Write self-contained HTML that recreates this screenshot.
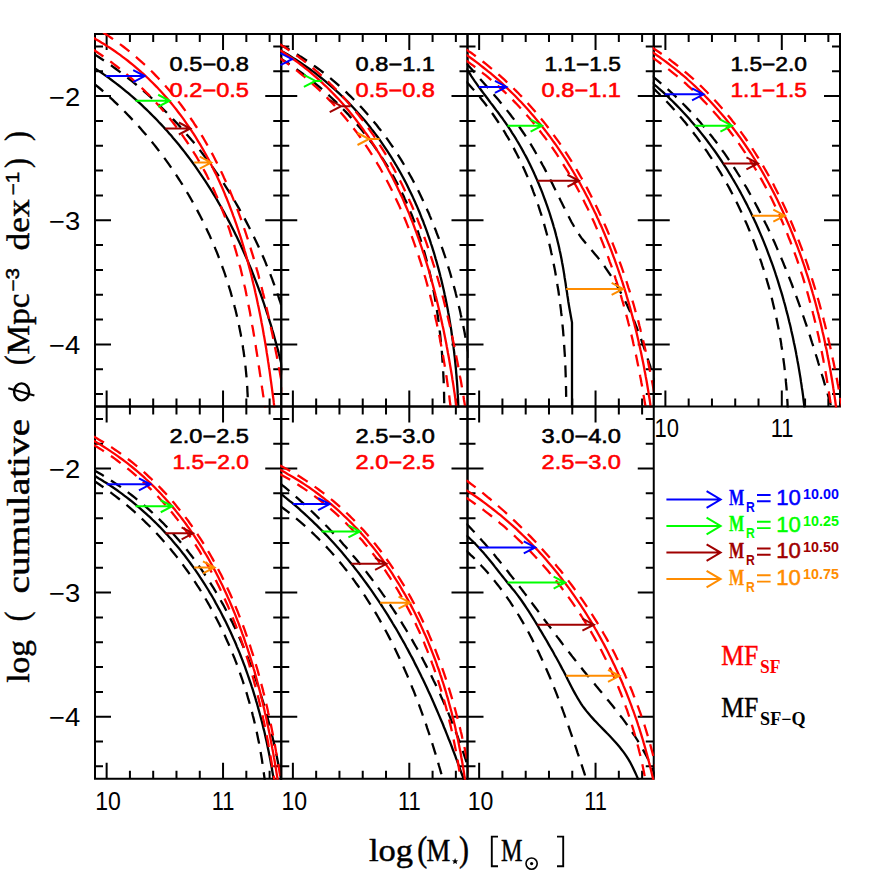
<!DOCTYPE html><html><head><meta charset="utf-8"><title>Mass functions</title><style>html,body{margin:0;padding:0;background:#fff;}body{width:872px;height:872px;overflow:hidden;font-family:"Liberation Sans",sans-serif;}svg{display:block;}</style></head><body>
<svg width="872" height="872" viewBox="0 0 872 872">
<rect width="872" height="872" fill="#fff"/>
<defs>
<clipPath id="c1"><rect x="94.00" y="33.00" width="188.25" height="374.50"/></clipPath>
<clipPath id="c2"><rect x="280.25" y="33.00" width="188.25" height="374.50"/></clipPath>
<clipPath id="c3"><rect x="466.50" y="33.00" width="188.25" height="374.50"/></clipPath>
<clipPath id="c4"><rect x="652.75" y="33.00" width="188.25" height="374.50"/></clipPath>
<clipPath id="c5"><rect x="94.00" y="405.50" width="188.25" height="374.25"/></clipPath>
<clipPath id="c6"><rect x="280.25" y="405.50" width="188.25" height="374.25"/></clipPath>
<clipPath id="c7"><rect x="466.50" y="405.50" width="188.25" height="374.25"/></clipPath>
</defs>
<g stroke="#000" stroke-width="2" fill="none">
<rect x="95.00" y="34.00" width="186.25" height="372.50"/>
<path d="M106.64 34.00v16.00M106.64 406.50v-16.00M129.92 34.00v8.00M129.92 406.50v-8.00M153.20 34.00v8.00M153.20 406.50v-8.00M176.48 34.00v8.00M176.48 406.50v-8.00M199.77 34.00v8.00M199.77 406.50v-8.00M223.05 34.00v16.00M223.05 406.50v-16.00M246.33 34.00v8.00M246.33 406.50v-8.00M269.61 34.00v8.00M269.61 406.50v-8.00M95.00 46.42h8.00M281.25 46.42h-8.00M95.00 71.25h8.00M281.25 71.25h-8.00M95.00 96.08h16.00M281.25 96.08h-16.00M95.00 120.92h8.00M281.25 120.92h-8.00M95.00 145.75h8.00M281.25 145.75h-8.00M95.00 170.58h8.00M281.25 170.58h-8.00M95.00 195.42h8.00M281.25 195.42h-8.00M95.00 220.25h16.00M281.25 220.25h-16.00M95.00 245.08h8.00M281.25 245.08h-8.00M95.00 269.92h8.00M281.25 269.92h-8.00M95.00 294.75h8.00M281.25 294.75h-8.00M95.00 319.58h8.00M281.25 319.58h-8.00M95.00 344.42h16.00M281.25 344.42h-16.00M95.00 369.25h8.00M281.25 369.25h-8.00M95.00 394.08h8.00M281.25 394.08h-8.00"/>
</g>
<g clip-path="url(#c1)" fill="none" stroke-width="2.3">
<path d="M94.0 83.6 L96.4 85.6 L98.7 87.5 L101.1 89.5 L103.4 91.5 L105.7 93.6 L107.9 95.6 L110.2 97.7 L112.5 99.7 L114.7 101.8 L116.9 103.9 L119.1 106.1 L121.3 108.2 L123.5 110.4 L125.6 112.5 L127.7 114.7 L129.8 116.9 L131.9 119.1 L134.0 121.3 L136.1 123.6 L138.1 125.8 L140.2 128.1 L142.2 130.4 L144.2 132.7 L146.2 135.0 L148.1 137.4 L150.1 139.7 L152.0 142.0 L153.9 144.4 L155.8 146.8 L157.7 149.2 L159.5 151.6 L161.4 154.0 L163.2 156.5 L165.0 158.9 L166.8 161.4 L168.6 163.9 L170.3 166.3 L172.0 168.8 L173.8 171.4 L175.5 173.9 L177.1 176.4 L178.8 179.0 L180.4 181.5 L182.1 184.1 L183.7 186.7 L185.3 189.3 L186.8 191.9 L188.4 194.5 L189.9 197.1 L191.4 199.7 L192.9 202.4 L194.4 205.0 L195.9 207.7 L197.3 210.4 L198.7 213.1 L200.1 215.8 L201.5 218.5 L202.9 221.2 L204.2 223.9 L205.5 226.7 L206.8 229.4 L208.1 232.2 L209.4 234.9 L210.6 237.7 L211.9 240.5 L213.1 243.3 L214.3 246.1 L215.4 248.9 L216.6 251.7 L217.7 254.5 L218.8 257.4 L219.9 260.2 L221.0 263.0 L222.0 265.9 L223.1 268.8 L224.1 271.6 L225.1 274.5 L226.0 277.4 L227.0 280.3 L227.9 283.2 L228.8 286.1 L229.7 289.0 L230.6 291.9 L231.4 294.9 L232.3 297.8 L233.1 300.7 L233.9 303.7 L234.6 306.6 L235.4 309.6 L236.1 312.5 L236.8 315.5 L237.5 318.5 L238.1 321.5 L238.8 324.4 L239.4 327.4 L240.0 330.4 L240.6 333.4 L241.1 336.4 L241.7 339.4 L242.2 342.4 L242.7 345.4 L243.1 348.5 L243.6 351.5 L244.0 354.5 L244.4 357.5 L244.8 360.6 L245.2 363.6 L245.5 366.6 L245.8 369.7 L246.1 372.7 L246.4 375.8 L246.7 378.8 L246.9 381.9 L247.1 384.9 L247.3 388.0 L247.4 391.1 L247.6 394.1 L247.7 397.2" stroke="#000000" stroke-dasharray="12 8.5"/>
<path d="M93.9 53.9 L96.5 55.6 L99.0 57.3 L101.6 59.0 L104.2 60.7 L106.7 62.4 L109.2 64.2 L111.8 65.9 L114.3 67.7 L116.7 69.5 L119.2 71.3 L121.7 73.2 L124.1 75.0 L126.5 76.9 L128.9 78.8 L131.3 80.7 L133.7 82.6 L136.0 84.5 L138.4 86.5 L140.7 88.5 L143.0 90.4 L145.3 92.4 L147.6 94.5 L149.8 96.5 L152.1 98.5 L154.3 100.6 L156.5 102.7 L158.7 104.8 L160.9 106.9 L163.1 109.0 L165.3 111.2 L167.4 113.3 L169.5 115.5 L171.6 117.7 L173.7 119.9 L175.8 122.1 L177.9 124.3 L179.9 126.6 L181.9 128.8 L183.9 131.1 L185.9 133.4 L187.9 135.7 L189.9 138.0 L191.8 140.3 L193.8 142.6 L195.7 145.0 L197.6 147.3 L199.5 149.7 L201.4 152.1 L203.2 154.5 L205.0 156.9 L206.9 159.3 L208.7 161.8 L210.5 164.2 L212.2 166.7 L214.0 169.1 L215.7 171.6 L217.5 174.1 L219.2 176.6 L220.9 179.1 L222.6 181.7 L224.2 184.2 L225.9 186.8 L227.5 189.3 L229.1 191.9 L230.7 194.5 L232.3 197.1 L233.9 199.7 L235.4 202.3 L236.9 204.9 L238.5 207.6 L240.0 210.2 L241.4 212.9 L242.9 215.5 L244.4 218.2 L245.8 220.9 L247.2 223.6 L248.6 226.3 L250.0 229.0 L251.4 231.7 L252.7 234.4 L254.1 237.2 L255.4 239.9 L256.7 242.7 L258.0 245.4 L259.3 248.2 L260.5 251.0 L261.7 253.7 L263.0 256.5 L264.2 259.3 L265.4 262.1 L266.5 265.0 L267.7 267.8 L268.8 270.6 L270.0 273.4 L271.1 276.3 L272.2 279.1 L273.2 282.0 L274.3 284.9 L275.3 287.7 L276.4 290.6 L277.4 293.5 L278.4 296.4 L279.3 299.3 L280.3 302.2 L281.2 305.1 L282.2 308.0 L283.1 310.9 L284.0 313.8 L284.8 316.7 L285.7 319.7 L286.5 322.6" stroke="#000000" stroke-dasharray="12 8.5"/>
<path d="M93.9 67.7 L96.5 69.4 L99.1 71.1 L101.6 72.8 L104.1 74.6 L106.6 76.3 L109.1 78.1 L111.6 80.0 L114.0 81.8 L116.4 83.7 L118.8 85.5 L121.2 87.4 L123.6 89.3 L126.0 91.3 L128.3 93.2 L130.6 95.2 L132.9 97.1 L135.2 99.1 L137.4 101.2 L139.7 103.2 L141.9 105.2 L144.1 107.3 L146.3 109.4 L148.5 111.5 L150.6 113.6 L152.7 115.7 L154.9 117.9 L157.0 120.0 L159.0 122.2 L161.1 124.4 L163.1 126.6 L165.2 128.9 L167.2 131.1 L169.2 133.4 L171.2 135.6 L173.1 137.9 L175.1 140.2 L177.0 142.5 L178.9 144.8 L180.8 147.2 L182.6 149.5 L184.5 151.9 L186.3 154.3 L188.2 156.7 L190.0 159.1 L191.8 161.5 L193.5 163.9 L195.3 166.4 L197.0 168.8 L198.7 171.3 L200.4 173.8 L202.1 176.3 L203.8 178.8 L205.5 181.3 L207.1 183.8 L208.7 186.4 L210.3 188.9 L211.9 191.5 L213.5 194.1 L215.1 196.7 L216.6 199.2 L218.1 201.9 L219.6 204.5 L221.1 207.1 L222.6 209.7 L224.1 212.4 L225.5 215.0 L227.0 217.7 L228.4 220.4 L229.8 223.0 L231.2 225.7 L232.6 228.4 L233.9 231.1 L235.3 233.9 L236.6 236.6 L237.9 239.3 L239.2 242.0 L240.5 244.8 L241.7 247.5 L243.0 250.3 L244.2 253.1 L245.5 255.9 L246.7 258.6 L247.9 261.4 L249.0 264.2 L250.2 267.0 L251.4 269.8 L252.5 272.7 L253.6 275.5 L254.7 278.3 L255.8 281.1 L256.9 284.0 L258.0 286.8 L259.0 289.7 L260.1 292.5 L261.1 295.4 L262.1 298.2 L263.1 301.1 L264.1 304.0 L265.0 306.9 L266.0 309.7 L266.9 312.6 L267.9 315.5 L268.8 318.4 L269.7 321.3 L270.6 324.2 L271.5 327.1 L272.3 330.0 L273.2 332.9 L274.0 335.8 L274.8 338.7 L275.6 341.6 L276.4 344.6 L277.2 347.5 L278.0 350.4 L278.7 353.3 L279.5 356.2 L280.2 359.2 L280.9 362.1 L281.6 365.0 L282.3 367.9 L283.0 370.9 L283.7 373.8 L284.4 376.7 L285.0 379.6 L285.6 382.6 L286.3 385.5 L286.9 388.4" stroke="#000000"/>
<path d="M93.4 49.8 L96.1 51.5 L98.7 53.3 L101.3 55.0 L103.8 56.8 L106.4 58.6 L108.9 60.4 L111.4 62.2 L113.8 64.1 L116.3 66.0 L118.7 67.9 L121.1 69.8 L123.5 71.8 L125.9 73.7 L128.2 75.7 L130.5 77.7 L132.8 79.7 L135.1 81.8 L137.4 83.8 L139.6 85.9 L141.8 88.0 L144.0 90.1 L146.1 92.2 L148.3 94.4 L150.4 96.6 L152.5 98.8 L154.6 101.0 L156.6 103.2 L158.7 105.4 L160.7 107.7 L162.6 110.0 L164.6 112.3 L166.6 114.6 L168.5 116.9 L170.4 119.2 L172.2 121.6 L174.1 124.0 L175.9 126.4 L177.7 128.8 L179.5 131.2 L181.3 133.6 L183.0 136.1 L184.7 138.6 L186.4 141.0 L188.1 143.5 L189.7 146.1 L191.4 148.6 L193.0 151.1 L194.5 153.7 L196.1 156.2 L197.6 158.8 L199.1 161.4 L200.6 164.0 L202.1 166.7 L203.5 169.3 L205.0 171.9 L206.4 174.6 L207.7 177.3 L209.1 180.0 L210.4 182.7 L211.7 185.4 L213.0 188.1 L214.3 190.8 L215.5 193.6 L216.7 196.3 L217.9 199.1 L219.1 201.9 L220.2 204.7 L221.3 207.5 L222.4 210.3 L223.5 213.1 L224.6 215.9 L225.6 218.8 L226.6 221.6 L227.6 224.5 L228.6 227.3 L229.6 230.2 L230.5 233.1 L231.4 236.0 L232.3 238.9 L233.2 241.8 L234.1 244.7 L234.9 247.6 L235.8 250.6 L236.6 253.5 L237.4 256.4 L238.2 259.4 L239.0 262.3 L239.7 265.3 L240.5 268.2 L241.2 271.2 L241.9 274.2 L242.6 277.2 L243.3 280.1 L244.0 283.1 L244.6 286.1 L245.3 289.1 L245.9 292.1 L246.5 295.1 L247.2 298.1 L247.8 301.1 L248.3 304.1 L248.9 307.1 L249.5 310.1 L250.1 313.1 L250.6 316.2 L251.2 319.2 L251.7 322.2 L252.2 325.2 L252.8 328.2 L253.3 331.2 L253.8 334.2 L254.3 337.3 L254.8 340.3 L255.3 343.3 L255.8 346.3 L256.2 349.3 L256.7 352.3 L257.2 355.3 L257.6 358.3 L258.1 361.3 L258.6 364.3 L259.0 367.3 L259.5 370.3 L259.9 373.3 L260.4 376.3 L260.8 379.3 L261.3 382.2 L261.7 385.2 L262.1 388.2 L262.6 391.2 L263.0 394.1 L263.5 397.1 L263.9 400.0 L264.4 403.0 L264.8 405.9 L265.2 408.8 L265.7 411.7" stroke="#ff0000" stroke-dasharray="12 8.5"/>
<path d="M103.1 32.4 L105.8 34.2 L108.4 35.9 L111.0 37.7 L113.6 39.5 L116.2 41.4 L118.8 43.2 L121.3 45.1 L123.8 47.0 L126.2 48.9 L128.7 50.8 L131.1 52.8 L133.4 54.8 L135.8 56.8 L138.1 58.8 L140.4 60.8 L142.7 62.9 L145.0 64.9 L147.2 67.0 L149.4 69.1 L151.6 71.3 L153.7 73.4 L155.8 75.6 L157.9 77.8 L160.0 80.0 L162.1 82.2 L164.1 84.4 L166.1 86.7 L168.1 89.0 L170.1 91.2 L172.0 93.6 L173.9 95.9 L175.8 98.2 L177.7 100.6 L179.5 102.9 L181.3 105.3 L183.1 107.7 L184.9 110.1 L186.7 112.6 L188.4 115.0 L190.1 117.5 L191.8 120.0 L193.5 122.4 L195.1 125.0 L196.8 127.5 L198.4 130.0 L200.0 132.5 L201.5 135.1 L203.1 137.7 L204.6 140.3 L206.1 142.9 L207.6 145.5 L209.1 148.1 L210.5 150.7 L212.0 153.4 L213.4 156.0 L214.8 158.7 L216.1 161.4 L217.5 164.1 L218.9 166.8 L220.2 169.5 L221.5 172.2 L222.8 174.9 L224.0 177.7 L225.3 180.4 L226.5 183.2 L227.8 185.9 L229.0 188.7 L230.2 191.5 L231.3 194.3 L232.5 197.1 L233.6 199.9 L234.8 202.7 L235.9 205.6 L237.0 208.4 L238.1 211.3 L239.1 214.1 L240.2 217.0 L241.2 219.8 L242.2 222.7 L243.2 225.6 L244.2 228.5 L245.2 231.4 L246.2 234.3 L247.1 237.2 L248.1 240.1 L249.0 243.0 L249.9 245.9 L250.8 248.8 L251.7 251.8 L252.6 254.7 L253.5 257.6 L254.3 260.6 L255.2 263.5 L256.0 266.5 L256.8 269.4 L257.7 272.4 L258.5 275.3 L259.2 278.3 L260.0 281.3 L260.8 284.2 L261.6 287.2 L262.3 290.2 L263.0 293.1 L263.8 296.1 L264.5 299.1 L265.2 302.1 L265.9 305.0 L266.6 308.0 L267.3 311.0 L268.0 314.0 L268.6 317.0 L269.3 319.9 L269.9 322.9 L270.6 325.9 L271.2 328.9 L271.9 331.9 L272.5 334.8 L273.1 337.8 L273.7 340.8 L274.3 343.8 L274.9 346.7 L275.5 349.7 L276.1 352.7 L276.7 355.6 L277.2 358.6 L277.8 361.6 L278.4 364.5 L278.9 367.5 L279.5 370.4 L280.0 373.4 L280.5 376.3 L281.1 379.2 L281.6 382.2 L282.2 385.1 L282.7 388.0 L283.2 390.9 L283.7 393.9 L284.2 396.8" stroke="#ff0000" stroke-dasharray="12 8.5"/>
<path d="M93.5 37.8 L96.2 39.4 L99.0 41.0 L101.7 42.7 L104.4 44.3 L107.1 46.1 L109.8 47.8 L112.4 49.5 L115.0 51.3 L117.5 53.1 L120.1 54.9 L122.6 56.8 L125.0 58.6 L127.5 60.5 L129.9 62.5 L132.3 64.4 L134.7 66.3 L137.0 68.3 L139.3 70.3 L141.6 72.4 L143.9 74.4 L146.1 76.5 L148.3 78.5 L150.5 80.7 L152.6 82.8 L154.7 84.9 L156.9 87.1 L158.9 89.3 L161.0 91.5 L163.0 93.7 L165.0 96.0 L167.0 98.2 L168.9 100.5 L170.9 102.8 L172.8 105.1 L174.6 107.4 L176.5 109.8 L178.3 112.2 L180.1 114.5 L181.9 116.9 L183.7 119.4 L185.4 121.8 L187.1 124.3 L188.8 126.7 L190.5 129.2 L192.1 131.7 L193.8 134.2 L195.4 136.7 L197.0 139.3 L198.5 141.8 L200.1 144.4 L201.6 147.0 L203.1 149.6 L204.6 152.2 L206.0 154.8 L207.5 157.5 L208.9 160.1 L210.3 162.8 L211.6 165.5 L213.0 168.2 L214.3 170.9 L215.7 173.6 L217.0 176.3 L218.2 179.1 L219.5 181.8 L220.7 184.6 L222.0 187.3 L223.2 190.1 L224.4 192.9 L225.5 195.7 L226.7 198.5 L227.8 201.3 L228.9 204.2 L230.0 207.0 L231.1 209.8 L232.2 212.7 L233.2 215.6 L234.3 218.4 L235.3 221.3 L236.3 224.2 L237.3 227.1 L238.3 230.0 L239.2 232.9 L240.2 235.8 L241.1 238.7 L242.0 241.7 L242.9 244.6 L243.8 247.5 L244.6 250.5 L245.5 253.4 L246.3 256.4 L247.1 259.4 L248.0 262.3 L248.7 265.3 L249.5 268.3 L250.3 271.3 L251.1 274.2 L251.8 277.2 L252.5 280.2 L253.2 283.2 L254.0 286.2 L254.7 289.2 L255.3 292.2 L256.0 295.2 L256.7 298.2 L257.3 301.2 L257.9 304.2 L258.6 307.2 L259.2 310.2 L259.8 313.3 L260.4 316.3 L261.0 319.3 L261.5 322.3 L262.1 325.3 L262.7 328.3 L263.2 331.3 L263.7 334.3 L264.3 337.4 L264.8 340.4 L265.3 343.4 L265.8 346.4 L266.3 349.4 L266.7 352.4 L267.2 355.4 L267.7 358.4 L268.1 361.4 L268.6 364.4 L269.0 367.4 L269.5 370.3 L269.9 373.3 L270.3 376.3 L270.7 379.3 L271.1 382.2 L271.5 385.2 L271.9 388.2 L272.3 391.1 L272.7 394.1 L273.1 397.0 L273.5 399.9 L273.8 402.9 L274.2 405.8 L274.5 408.7 L274.9 411.6" stroke="#ff0000"/>
</g>
<g fill="none" stroke-width="2" stroke-linecap="butt" stroke-linejoin="miter">
<path d="M105.67 76.02 L144.70 76.02 M133.20 70.02 L144.70 76.02 L133.20 82.02" stroke="#0000ff"/>
<path d="M135.53 100.76 L169.66 100.76 M158.16 94.76 L169.66 100.76 L158.16 106.76" stroke="#00ff00"/>
<path d="M165.39 128.49 L190.35 128.49 M178.85 122.49 L190.35 128.49 L178.85 134.49" stroke="#a00000"/>
<path d="M194.19 162.62 L211.25 162.62 M199.75 156.62 L211.25 162.62 L199.75 168.62" stroke="#ff8c00"/>
</g>
<g stroke="#000" stroke-width="2" fill="none">
<rect x="281.25" y="34.00" width="186.25" height="372.50"/>
<path d="M292.89 34.00v16.00M292.89 406.50v-16.00M316.17 34.00v8.00M316.17 406.50v-8.00M339.45 34.00v8.00M339.45 406.50v-8.00M362.73 34.00v8.00M362.73 406.50v-8.00M386.02 34.00v8.00M386.02 406.50v-8.00M409.30 34.00v16.00M409.30 406.50v-16.00M432.58 34.00v8.00M432.58 406.50v-8.00M455.86 34.00v8.00M455.86 406.50v-8.00M281.25 46.42h8.00M467.50 46.42h-8.00M281.25 71.25h8.00M467.50 71.25h-8.00M281.25 96.08h16.00M467.50 96.08h-16.00M281.25 120.92h8.00M467.50 120.92h-8.00M281.25 145.75h8.00M467.50 145.75h-8.00M281.25 170.58h8.00M467.50 170.58h-8.00M281.25 195.42h8.00M467.50 195.42h-8.00M281.25 220.25h16.00M467.50 220.25h-16.00M281.25 245.08h8.00M467.50 245.08h-8.00M281.25 269.92h8.00M467.50 269.92h-8.00M281.25 294.75h8.00M467.50 294.75h-8.00M281.25 319.58h8.00M467.50 319.58h-8.00M281.25 344.42h16.00M467.50 344.42h-16.00M281.25 369.25h8.00M467.50 369.25h-8.00M281.25 394.08h8.00M467.50 394.08h-8.00"/>
</g>
<g clip-path="url(#c2)" fill="none" stroke-width="2.3">
<path d="M279.5 57.8 L282.1 59.4 L284.7 61.1 L287.3 62.8 L289.9 64.5 L292.4 66.3 L295.0 68.1 L297.5 69.9 L300.0 71.7 L302.5 73.5 L304.9 75.3 L307.3 77.2 L309.8 79.1 L312.2 81.0 L314.5 82.9 L316.9 84.9 L319.3 86.9 L321.6 88.8 L323.9 90.8 L326.2 92.9 L328.4 94.9 L330.7 97.0 L332.9 99.1 L335.1 101.2 L337.3 103.3 L339.4 105.4 L341.6 107.6 L343.7 109.7 L345.8 111.9 L347.9 114.1 L349.9 116.4 L352.0 118.6 L354.0 120.9 L356.0 123.1 L357.9 125.4 L359.9 127.7 L361.8 130.1 L363.7 132.4 L365.6 134.8 L367.4 137.2 L369.3 139.6 L371.1 142.0 L372.9 144.4 L374.6 146.8 L376.4 149.3 L378.1 151.8 L379.8 154.3 L381.5 156.8 L383.1 159.3 L384.7 161.8 L386.3 164.4 L387.9 166.9 L389.5 169.5 L391.0 172.1 L392.5 174.7 L394.0 177.4 L395.4 180.0 L396.8 182.6 L398.2 185.3 L399.6 188.0 L400.9 190.7 L402.3 193.4 L403.6 196.1 L404.8 198.9 L406.1 201.6 L407.3 204.4 L408.5 207.1 L409.7 209.9 L410.8 212.7 L412.0 215.5 L413.1 218.3 L414.2 221.2 L415.2 224.0 L416.3 226.9 L417.3 229.7 L418.3 232.6 L419.2 235.5 L420.2 238.4 L421.1 241.3 L422.0 244.2 L422.9 247.1 L423.7 250.0 L424.6 252.9 L425.4 255.9 L426.2 258.8 L427.0 261.8 L427.7 264.7 L428.5 267.7 L429.2 270.6 L429.9 273.6 L430.6 276.6 L431.2 279.6 L431.9 282.6 L432.5 285.6 L433.1 288.6 L433.7 291.6 L434.3 294.6 L434.8 297.6 L435.3 300.6 L435.9 303.6 L436.4 306.7 L436.8 309.7 L437.3 312.7 L437.7 315.8 L438.2 318.8 L438.6 321.8 L439.0 324.8 L439.4 327.9 L439.7 330.9 L440.1 334.0 L440.4 337.0 L440.7 340.0 L441.0 343.1 L441.3 346.1 L441.6 349.1 L441.9 352.2 L442.1 355.2 L442.3 358.2 L442.5 361.3 L442.7 364.3 L442.9 367.3 L443.1 370.3 L443.3 373.3 L443.4 376.4 L443.6 379.4 L443.7 382.4 L443.8 385.4 L443.9 388.4 L444.0 391.4 L444.1 394.4 L444.1 397.3 L444.2 400.3 L444.2 403.3" stroke="#000000" stroke-dasharray="12 8.5"/>
<path d="M279.1 44.0 L281.8 45.5 L284.6 47.0 L287.3 48.5 L290.0 50.1 L292.7 51.7 L295.4 53.3 L298.0 54.9 L300.6 56.6 L303.2 58.2 L305.8 59.9 L308.3 61.7 L310.8 63.4 L313.4 65.2 L315.8 67.0 L318.3 68.8 L320.8 70.6 L323.2 72.5 L325.6 74.4 L328.0 76.3 L330.3 78.2 L332.6 80.1 L335.0 82.1 L337.3 84.1 L339.5 86.1 L341.8 88.1 L344.0 90.1 L346.2 92.2 L348.4 94.3 L350.6 96.4 L352.7 98.5 L354.8 100.6 L356.9 102.8 L359.0 104.9 L361.1 107.1 L363.1 109.3 L365.1 111.6 L367.1 113.8 L369.1 116.1 L371.0 118.4 L373.0 120.7 L374.9 123.0 L376.8 125.3 L378.6 127.7 L380.5 130.0 L382.3 132.4 L384.1 134.8 L385.9 137.2 L387.7 139.7 L389.4 142.1 L391.1 144.6 L392.8 147.0 L394.5 149.5 L396.1 152.0 L397.8 154.6 L399.4 157.1 L401.0 159.7 L402.5 162.2 L404.1 164.8 L405.6 167.4 L407.1 170.0 L408.6 172.6 L410.1 175.2 L411.6 177.9 L413.0 180.5 L414.4 183.2 L415.8 185.9 L417.2 188.6 L418.6 191.3 L419.9 194.0 L421.2 196.7 L422.5 199.5 L423.8 202.2 L425.1 205.0 L426.3 207.7 L427.5 210.5 L428.8 213.3 L429.9 216.1 L431.1 218.9 L432.3 221.7 L433.4 224.5 L434.5 227.3 L435.7 230.2 L436.7 233.0 L437.8 235.8 L438.9 238.7 L439.9 241.6 L440.9 244.4 L441.9 247.3 L442.9 250.2 L443.9 253.1 L444.9 256.0 L445.8 258.9 L446.7 261.8 L447.6 264.7 L448.5 267.6 L449.4 270.5 L450.3 273.5 L451.1 276.4 L452.0 279.3 L452.8 282.3 L453.6 285.2 L454.4 288.1 L455.2 291.1 L455.9 294.0 L456.7 297.0 L457.4 300.0 L458.1 302.9 L458.8 305.9 L459.5 308.8 L460.2 311.8 L460.8 314.8 L461.5 317.7 L462.1 320.7 L462.8 323.6 L463.4 326.6 L464.0 329.6 L464.6 332.5 L465.1 335.5 L465.7 338.5 L466.2 341.4 L466.8 344.4 L467.3 347.3 L467.8 350.3 L468.3 353.3 L468.8 356.2 L469.3 359.2 L469.7 362.1 L470.2 365.1" stroke="#000000" stroke-dasharray="12 8.5"/>
<path d="M279.5 49.9 L282.3 51.4 L285.0 53.0 L287.7 54.6 L290.4 56.2 L293.0 57.9 L295.7 59.5 L298.3 61.2 L300.9 62.9 L303.4 64.7 L306.0 66.4 L308.5 68.2 L311.0 70.0 L313.5 71.9 L315.9 73.7 L318.3 75.6 L320.7 77.5 L323.1 79.4 L325.5 81.3 L327.8 83.3 L330.1 85.3 L332.4 87.3 L334.7 89.3 L336.9 91.4 L339.1 93.4 L341.3 95.5 L343.5 97.6 L345.7 99.7 L347.8 101.9 L349.9 104.1 L352.0 106.2 L354.1 108.4 L356.1 110.7 L358.1 112.9 L360.1 115.2 L362.1 117.4 L364.1 119.7 L366.0 122.0 L367.9 124.4 L369.8 126.7 L371.6 129.1 L373.5 131.5 L375.3 133.9 L377.1 136.3 L378.9 138.7 L380.6 141.1 L382.3 143.6 L384.0 146.1 L385.7 148.6 L387.4 151.1 L389.0 153.6 L390.6 156.2 L392.2 158.7 L393.8 161.3 L395.3 163.9 L396.9 166.5 L398.4 169.1 L399.9 171.7 L401.3 174.3 L402.8 177.0 L404.2 179.6 L405.6 182.3 L407.0 185.0 L408.3 187.7 L409.6 190.4 L411.0 193.2 L412.3 195.9 L413.5 198.6 L414.8 201.4 L416.0 204.2 L417.2 206.9 L418.4 209.7 L419.6 212.5 L420.7 215.4 L421.8 218.2 L423.0 221.0 L424.0 223.9 L425.1 226.7 L426.2 229.6 L427.2 232.4 L428.2 235.3 L429.2 238.2 L430.2 241.1 L431.1 244.0 L432.1 246.9 L433.0 249.8 L433.9 252.7 L434.8 255.7 L435.6 258.6 L436.5 261.5 L437.3 264.5 L438.1 267.4 L438.9 270.4 L439.7 273.4 L440.4 276.3 L441.2 279.3 L441.9 282.3 L442.6 285.3 L443.3 288.3 L444.0 291.3 L444.6 294.3 L445.3 297.3 L445.9 300.3 L446.5 303.3 L447.1 306.3 L447.7 309.3 L448.2 312.3 L448.8 315.3 L449.3 318.4 L449.8 321.4 L450.3 324.4 L450.8 327.4 L451.3 330.5 L451.7 333.5 L452.1 336.5 L452.6 339.6 L453.0 342.6 L453.4 345.6 L453.7 348.7 L454.1 351.7 L454.4 354.7 L454.8 357.7 L455.1 360.8 L455.4 363.8 L455.7 366.8 L456.0 369.8 L456.2 372.9 L456.5 375.9 L456.7 378.9 L457.0 381.9 L457.2 384.9 L457.4 387.9 L457.6 390.9 L457.7 393.9 L457.9 396.9 L458.1 399.9 L458.2 402.9 L458.3 405.9 L458.4 408.9 L458.5 411.8" stroke="#000000"/>
<path d="M279.5 58.0 L282.1 59.8 L284.6 61.6 L287.2 63.4 L289.7 65.2 L292.2 67.1 L294.7 69.0 L297.2 70.9 L299.6 72.8 L302.0 74.8 L304.4 76.7 L306.7 78.7 L309.0 80.7 L311.3 82.7 L313.6 84.8 L315.9 86.8 L318.1 88.9 L320.3 91.0 L322.5 93.1 L324.7 95.3 L326.8 97.4 L328.9 99.6 L331.0 101.8 L333.1 104.0 L335.1 106.2 L337.1 108.4 L339.1 110.7 L341.1 112.9 L343.1 115.2 L345.0 117.5 L346.9 119.9 L348.8 122.2 L350.7 124.5 L352.5 126.9 L354.3 129.3 L356.2 131.7 L357.9 134.1 L359.7 136.5 L361.4 139.0 L363.2 141.4 L364.8 143.9 L366.5 146.4 L368.2 148.9 L369.8 151.4 L371.4 153.9 L373.0 156.5 L374.6 159.0 L376.2 161.6 L377.7 164.2 L379.2 166.7 L380.7 169.3 L382.2 172.0 L383.7 174.6 L385.1 177.2 L386.5 179.9 L387.9 182.5 L389.3 185.2 L390.7 187.9 L392.0 190.6 L393.3 193.3 L394.7 196.0 L395.9 198.7 L397.2 201.4 L398.5 204.2 L399.7 206.9 L400.9 209.7 L402.2 212.5 L403.3 215.2 L404.5 218.0 L405.7 220.8 L406.8 223.6 L407.9 226.4 L409.0 229.3 L410.1 232.1 L411.2 234.9 L412.3 237.8 L413.3 240.6 L414.3 243.5 L415.3 246.4 L416.3 249.2 L417.3 252.1 L418.3 255.0 L419.2 257.9 L420.2 260.8 L421.1 263.7 L422.0 266.6 L422.9 269.5 L423.8 272.4 L424.6 275.3 L425.5 278.3 L426.3 281.2 L427.1 284.1 L427.9 287.1 L428.7 290.0 L429.5 293.0 L430.3 295.9 L431.0 298.9 L431.8 301.8 L432.5 304.8 L433.2 307.8 L433.9 310.7 L434.6 313.7 L435.3 316.7 L435.9 319.7 L436.6 322.6 L437.2 325.6 L437.8 328.6 L438.5 331.6 L439.1 334.6 L439.7 337.5 L440.2 340.5 L440.8 343.5 L441.4 346.5 L441.9 349.5 L442.5 352.5 L443.0 355.4 L443.5 358.4 L444.0 361.4 L444.5 364.4 L445.0 367.4 L445.5 370.4 L446.0 373.3 L446.4 376.3 L446.9 379.3 L447.3 382.3 L447.7 385.2 L448.2 388.2 L448.6 391.2 L449.0 394.1 L449.4 397.1 L449.7 400.1 L450.1 403.0 L450.5 406.0 L450.9 408.9 L451.2 411.9" stroke="#ff0000" stroke-dasharray="12 8.5"/>
<path d="M279.3 43.9 L282.0 45.6 L284.7 47.3 L287.3 49.1 L289.9 50.8 L292.5 52.6 L295.1 54.4 L297.6 56.2 L300.1 58.1 L302.6 59.9 L305.1 61.8 L307.5 63.7 L309.9 65.7 L312.3 67.6 L314.7 69.6 L317.0 71.6 L319.3 73.6 L321.6 75.6 L323.9 77.7 L326.1 79.8 L328.3 81.8 L330.5 84.0 L332.7 86.1 L334.8 88.2 L336.9 90.4 L339.0 92.6 L341.1 94.8 L343.2 97.0 L345.2 99.2 L347.2 101.5 L349.2 103.8 L351.2 106.0 L353.1 108.3 L355.0 110.7 L356.9 113.0 L358.8 115.4 L360.6 117.7 L362.5 120.1 L364.3 122.5 L366.1 124.9 L367.9 127.4 L369.6 129.8 L371.3 132.3 L373.0 134.7 L374.7 137.2 L376.4 139.7 L378.1 142.2 L379.7 144.8 L381.3 147.3 L382.9 149.9 L384.5 152.4 L386.0 155.0 L387.5 157.6 L389.1 160.2 L390.6 162.8 L392.0 165.5 L393.5 168.1 L394.9 170.8 L396.4 173.4 L397.8 176.1 L399.1 178.8 L400.5 181.5 L401.9 184.2 L403.2 186.9 L404.5 189.7 L405.8 192.4 L407.1 195.2 L408.4 197.9 L409.6 200.7 L410.9 203.5 L412.1 206.3 L413.3 209.1 L414.5 211.9 L415.6 214.7 L416.8 217.5 L417.9 220.3 L419.0 223.2 L420.2 226.0 L421.2 228.9 L422.3 231.7 L423.4 234.6 L424.4 237.5 L425.5 240.4 L426.5 243.2 L427.5 246.1 L428.5 249.0 L429.5 251.9 L430.4 254.9 L431.4 257.8 L432.3 260.7 L433.2 263.6 L434.2 266.5 L435.1 269.5 L435.9 272.4 L436.8 275.4 L437.7 278.3 L438.5 281.3 L439.4 284.2 L440.2 287.2 L441.0 290.1 L441.8 293.1 L442.6 296.1 L443.4 299.0 L444.1 302.0 L444.9 305.0 L445.6 307.9 L446.4 310.9 L447.1 313.9 L447.8 316.9 L448.5 319.9 L449.2 322.8 L449.9 325.8 L450.5 328.8 L451.2 331.8 L451.8 334.8 L452.5 337.8 L453.1 340.7 L453.7 343.7 L454.4 346.7 L455.0 349.7 L455.6 352.7 L456.1 355.6 L456.7 358.6 L457.3 361.6 L457.9 364.5 L458.4 367.5 L459.0 370.5 L459.5 373.5 L460.0 376.4 L460.6 379.4 L461.1 382.3 L461.6 385.3 L462.1 388.2 L462.6 391.2 L463.1 394.1 L463.6 397.0 L464.0 400.0 L464.5 402.9 L465.0 405.8 L465.4 408.7 L465.9 411.7" stroke="#ff0000" stroke-dasharray="12 8.5"/>
<path d="M280.1 50.3 L282.8 51.9 L285.4 53.7 L288.0 55.4 L290.5 57.2 L293.1 59.0 L295.6 60.8 L298.1 62.6 L300.6 64.5 L303.0 66.4 L305.4 68.3 L307.8 70.2 L310.2 72.1 L312.5 74.1 L314.8 76.1 L317.1 78.1 L319.4 80.1 L321.6 82.2 L323.8 84.3 L326.0 86.3 L328.2 88.5 L330.3 90.6 L332.4 92.7 L334.5 94.9 L336.6 97.1 L338.7 99.3 L340.7 101.5 L342.7 103.8 L344.7 106.0 L346.6 108.3 L348.6 110.6 L350.5 112.9 L352.4 115.3 L354.3 117.6 L356.1 120.0 L357.9 122.4 L359.7 124.8 L361.5 127.2 L363.3 129.6 L365.0 132.1 L366.8 134.5 L368.5 137.0 L370.1 139.5 L371.8 142.0 L373.4 144.5 L375.1 147.0 L376.7 149.6 L378.2 152.2 L379.8 154.7 L381.3 157.3 L382.9 159.9 L384.4 162.5 L385.8 165.2 L387.3 167.8 L388.7 170.5 L390.2 173.1 L391.6 175.8 L393.0 178.5 L394.3 181.2 L395.7 183.9 L397.0 186.6 L398.3 189.4 L399.6 192.1 L400.9 194.9 L402.2 197.6 L403.4 200.4 L404.6 203.2 L405.8 206.0 L407.0 208.8 L408.2 211.6 L409.4 214.4 L410.5 217.3 L411.6 220.1 L412.8 222.9 L413.9 225.8 L414.9 228.7 L416.0 231.5 L417.0 234.4 L418.1 237.3 L419.1 240.2 L420.1 243.1 L421.1 246.0 L422.1 248.9 L423.0 251.8 L424.0 254.7 L424.9 257.6 L425.8 260.6 L426.7 263.5 L427.6 266.4 L428.5 269.4 L429.3 272.3 L430.2 275.3 L431.0 278.2 L431.8 281.2 L432.6 284.1 L433.4 287.1 L434.2 290.1 L435.0 293.0 L435.7 296.0 L436.5 299.0 L437.2 302.0 L437.9 305.0 L438.6 307.9 L439.3 310.9 L440.0 313.9 L440.7 316.9 L441.4 319.9 L442.0 322.9 L442.6 325.8 L443.3 328.8 L443.9 331.8 L444.5 334.8 L445.1 337.8 L445.7 340.8 L446.3 343.7 L446.8 346.7 L447.4 349.7 L447.9 352.7 L448.5 355.7 L449.0 358.6 L449.5 361.6 L450.0 364.6 L450.5 367.5 L451.0 370.5 L451.5 373.5 L452.0 376.4 L452.4 379.4 L452.9 382.3 L453.4 385.3 L453.8 388.2 L454.2 391.1 L454.7 394.1 L455.1 397.0 L455.5 399.9 L455.9 402.8 L456.3 405.7 L456.7 408.6 L457.1 411.5" stroke="#ff0000"/>
</g>
<g fill="none" stroke-width="2" stroke-linecap="butt" stroke-linejoin="miter">
<path d="M293.00 59.20 L292.00 59.20 M280.50 53.20 L292.00 59.20 L280.50 65.20" stroke="#0000ff"/>
<path d="M321.90 80.90 L315.40 80.90 M303.90 74.90 L315.40 80.90 L303.90 86.90" stroke="#00ff00"/>
<path d="M350.70 106.20 L341.20 106.20 M329.70 100.20 L341.20 106.20 L329.70 112.20" stroke="#a00000"/>
<path d="M379.70 139.00 L369.00 139.00 M357.50 133.00 L369.00 139.00 L357.50 145.00" stroke="#ff8c00"/>
</g>
<g stroke="#000" stroke-width="2" fill="none">
<rect x="467.50" y="34.00" width="186.25" height="372.50"/>
<path d="M479.14 34.00v16.00M479.14 406.50v-16.00M502.42 34.00v8.00M502.42 406.50v-8.00M525.70 34.00v8.00M525.70 406.50v-8.00M548.98 34.00v8.00M548.98 406.50v-8.00M572.27 34.00v8.00M572.27 406.50v-8.00M595.55 34.00v16.00M595.55 406.50v-16.00M618.83 34.00v8.00M618.83 406.50v-8.00M642.11 34.00v8.00M642.11 406.50v-8.00M467.50 46.42h8.00M653.75 46.42h-8.00M467.50 71.25h8.00M653.75 71.25h-8.00M467.50 96.08h16.00M653.75 96.08h-16.00M467.50 120.92h8.00M653.75 120.92h-8.00M467.50 145.75h8.00M653.75 145.75h-8.00M467.50 170.58h8.00M653.75 170.58h-8.00M467.50 195.42h8.00M653.75 195.42h-8.00M467.50 220.25h16.00M653.75 220.25h-16.00M467.50 245.08h8.00M653.75 245.08h-8.00M467.50 269.92h8.00M653.75 269.92h-8.00M467.50 294.75h8.00M653.75 294.75h-8.00M467.50 319.58h8.00M653.75 319.58h-8.00M467.50 344.42h16.00M653.75 344.42h-16.00M467.50 369.25h8.00M653.75 369.25h-8.00M467.50 394.08h8.00M653.75 394.08h-8.00"/>
</g>
<g clip-path="url(#c3)" fill="none" stroke-width="2.3">
<path d="M466.0 81.4 L468.1 83.6 L470.2 85.9 L472.2 88.2 L474.3 90.5 L476.3 92.9 L478.2 95.2 L480.2 97.6 L482.1 100.0 L484.0 102.3 L485.9 104.8 L487.7 107.2 L489.5 109.6 L491.3 112.1 L493.1 114.5 L494.8 117.0 L496.5 119.5 L498.2 122.0 L499.9 124.6 L501.5 127.1 L503.1 129.7 L504.7 132.2 L506.2 134.8 L507.8 137.4 L509.3 140.0 L510.7 142.6 L512.2 145.3 L513.6 147.9 L515.0 150.6 L516.4 153.3 L517.8 155.9 L519.1 158.6 L520.4 161.3 L521.7 164.1 L523.0 166.8 L524.3 169.5 L525.5 172.3 L526.7 175.0 L527.9 177.8 L529.0 180.6 L530.2 183.4 L531.3 186.2 L532.4 189.0 L533.4 191.8 L534.5 194.6 L535.5 197.4 L536.5 200.3 L537.5 203.1 L538.5 206.0 L539.4 208.8 L540.3 211.7 L541.3 214.6 L542.1 217.5 L543.0 220.4 L543.9 223.3 L544.7 226.2 L545.5 229.1 L546.3 232.0 L547.1 235.0 L547.8 237.9 L548.6 240.8 L549.3 243.8 L550.0 246.7 L550.7 249.7 L551.3 252.7 L552.0 255.6 L552.6 258.6 L553.2 261.6 L553.8 264.6 L554.4 267.5 L555.0 270.5 L555.5 273.5 L556.0 276.5 L556.6 279.5 L557.1 282.5 L557.5 285.5 L558.0 288.5 L558.5 291.5 L558.9 294.6 L559.3 297.6 L559.7 300.6 L560.1 303.6 L560.5 306.6 L560.9 309.6 L561.2 312.7 L561.6 315.7 L561.9 318.7 L562.2 321.7 L562.5 324.7 L562.8 327.8 L563.1 330.8 L563.3 333.8 L563.6 336.8 L563.8 339.9 L564.0 342.9 L564.2 345.9 L564.4 348.9 L564.6 351.9 L564.8 354.9 L565.0 358.0 L565.1 361.0 L565.3 364.0 L565.4 367.0 L565.5 370.0 L565.6 373.0 L565.7 376.0 L565.8 379.0 L565.9 382.0 L566.0 384.9 L566.0 387.9 L566.1 390.9 L566.1 393.9 L566.2 396.9" stroke="#000000" stroke-dasharray="12 8.5"/>
<path d="M466.7 63.5 L468.6 65.8 L470.6 68.0 L472.6 70.3 L474.6 72.6 L476.6 74.9 L478.6 77.1 L480.6 79.4 L482.6 81.7 L484.6 84.0 L486.6 86.2 L488.6 88.5 L490.6 90.8 L492.6 93.1 L494.6 95.4 L496.6 97.8 L498.6 100.1 L500.5 102.4 L502.5 104.8 L504.4 107.1 L506.3 109.5 L508.2 111.9 L510.1 114.3 L511.9 116.7 L513.8 119.1 L515.6 121.5 L517.3 124.0 L519.1 126.5 L520.8 129.0 L522.5 131.5 L524.2 134.0 L525.8 136.5 L527.5 139.1 L529.1 141.7 L530.7 144.2 L532.3 146.8 L533.8 149.4 L535.3 152.0 L536.8 154.7 L538.3 157.3 L539.8 159.9 L541.3 162.6 L542.7 165.3 L544.2 167.9 L545.6 170.6 L547.0 173.3 L548.4 176.0 L549.8 178.7 L551.2 181.4 L552.5 184.1 L553.9 186.9 L555.2 189.6 L556.6 192.3 L557.9 195.0 L559.3 197.8 L560.6 200.5 L562.0 203.2 L563.3 205.9 L564.7 208.7 L566.0 211.4 L567.4 214.1 L568.8 216.8 L570.2 219.5 L571.6 222.2 L573.1 224.8 L574.6 227.5 L576.1 230.1 L577.8 232.6 L579.5 235.1 L581.2 237.6 L583.1 240.0 L585.0 242.3 L586.9 244.7 L588.9 247.0 L590.9 249.3 L592.8 251.6 L594.8 253.9 L596.8 256.3 L598.7 258.6 L600.5 261.0 L602.4 263.4 L604.2 265.9 L605.9 268.4 L607.6 270.8 L609.3 273.4 L611.0 275.9 L612.6 278.5 L614.2 281.0 L615.8 283.6 L617.3 286.3 L618.8 288.9 L620.2 291.6 L621.7 294.2 L623.1 296.9 L624.4 299.6 L625.8 302.4 L627.1 305.1 L628.4 307.9 L629.6 310.6 L630.9 313.4 L632.1 316.2 L633.3 319.0 L634.5 321.8 L635.6 324.7 L636.7 327.5 L637.8 330.3 L638.9 333.2 L639.9 336.1 L641.0 338.9 L642.0 341.8 L643.0 344.7 L644.0 347.6 L645.0 350.4 L645.9 353.3 L646.9 356.2 L647.8 359.1 L648.8 362.0 L649.8 364.9 L650.7 367.8 L651.7 370.6 L652.7 373.5 L653.7 376.4 L654.7 379.2 L655.8 382.1 L656.8 384.9 L657.9 387.8 L659.0 390.6" stroke="#000000" stroke-dasharray="12 8.5"/>
<path d="M466.4 68.4 L468.0 71.0 L469.7 73.5 L471.3 76.1 L473.0 78.6 L474.7 81.1 L476.5 83.6 L478.2 86.1 L480.0 88.5 L481.8 91.0 L483.6 93.4 L485.4 95.8 L487.3 98.3 L489.1 100.7 L490.9 103.1 L492.8 105.5 L494.6 108.0 L496.4 110.4 L498.3 112.8 L500.1 115.3 L501.9 117.7 L503.6 120.2 L505.4 122.7 L507.1 125.2 L508.8 127.7 L510.5 130.2 L512.1 132.8 L513.8 135.4 L515.4 137.9 L516.9 140.5 L518.5 143.1 L520.0 145.8 L521.5 148.4 L523.0 151.1 L524.4 153.8 L525.9 156.4 L527.3 159.1 L528.6 161.8 L530.0 164.6 L531.3 167.3 L532.6 170.1 L533.9 172.8 L535.1 175.6 L536.4 178.4 L537.6 181.2 L538.8 184.0 L539.9 186.8 L541.1 189.6 L542.2 192.4 L543.3 195.3 L544.3 198.1 L545.4 201.0 L546.4 203.8 L547.4 206.7 L548.4 209.6 L549.4 212.5 L550.3 215.4 L551.2 218.3 L552.1 221.2 L553.0 224.1 L553.8 227.0 L554.7 229.9 L555.5 232.9 L556.2 235.8 L557.0 238.7 L557.7 241.7 L558.4 244.6 L559.1 247.6 L559.7 250.6 L560.4 253.5 L561.0 256.5 L561.6 259.5 L562.1 262.5 L562.7 265.5 L563.2 268.4 L563.7 271.4 L564.2 274.4 L564.6 277.4 L565.1 280.4 L565.6 283.4 L566.0 286.4 L566.5 289.5 L567.0 292.5 L567.4 295.5 L567.9 298.5 L568.3 301.5 L568.8 304.5 L569.3 307.5 L572.00 322.50 L572.00 410.00" stroke="#000000"/>
<path d="M465.6 60.2 L468.2 62.0 L470.7 63.8 L473.2 65.7 L475.7 67.6 L478.2 69.4 L480.7 71.3 L483.1 73.3 L485.5 75.2 L487.9 77.2 L490.2 79.2 L492.6 81.2 L494.9 83.2 L497.2 85.2 L499.5 87.3 L501.7 89.3 L504.0 91.4 L506.2 93.5 L508.3 95.6 L510.5 97.8 L512.7 99.9 L514.8 102.1 L516.9 104.3 L519.0 106.5 L521.0 108.7 L523.1 110.9 L525.1 113.2 L527.1 115.5 L529.1 117.7 L531.0 120.0 L533.0 122.3 L534.9 124.7 L536.8 127.0 L538.7 129.4 L540.5 131.7 L542.3 134.1 L544.2 136.5 L546.0 138.9 L547.8 141.4 L549.5 143.8 L551.3 146.2 L553.0 148.7 L554.7 151.2 L556.4 153.7 L558.0 156.2 L559.7 158.7 L561.3 161.2 L562.9 163.8 L564.5 166.3 L566.1 168.9 L567.7 171.4 L569.2 174.0 L570.7 176.6 L572.2 179.2 L573.7 181.9 L575.2 184.5 L576.7 187.1 L578.1 189.8 L579.5 192.4 L580.9 195.1 L582.3 197.8 L583.7 200.5 L585.0 203.2 L586.4 205.9 L587.7 208.6 L589.0 211.3 L590.3 214.1 L591.6 216.8 L592.8 219.6 L594.1 222.3 L595.3 225.1 L596.5 227.9 L597.7 230.7 L598.9 233.5 L600.0 236.3 L601.2 239.1 L602.3 241.9 L603.4 244.7 L604.5 247.5 L605.6 250.4 L606.7 253.2 L607.8 256.1 L608.8 258.9 L609.8 261.8 L610.9 264.7 L611.9 267.5 L612.9 270.4 L613.8 273.3 L614.8 276.2 L615.7 279.1 L616.7 282.0 L617.6 284.9 L618.5 287.8 L619.4 290.7 L620.3 293.6 L621.2 296.6 L622.0 299.5 L622.9 302.4 L623.7 305.3 L624.5 308.3 L625.3 311.2 L626.1 314.2 L626.9 317.1 L627.7 320.1 L628.4 323.0 L629.2 326.0 L629.9 328.9 L630.7 331.9 L631.4 334.8 L632.1 337.8 L632.8 340.8 L633.4 343.7 L634.1 346.7 L634.8 349.7 L635.4 352.6 L636.1 355.6 L636.7 358.6 L637.3 361.5 L637.9 364.5 L638.5 367.5 L639.1 370.4 L639.7 373.4 L640.2 376.4 L640.8 379.3 L641.3 382.3 L641.9 385.3 L642.4 388.2 L642.9 391.2 L643.4 394.2 L643.9 397.1 L644.4 400.1 L644.9 403.0 L645.4 406.0 L645.8 408.9 L646.3 411.9" stroke="#ff0000" stroke-dasharray="12 8.5"/>
<path d="M466.0 49.3 L468.5 51.1 L471.1 52.8 L473.6 54.6 L476.1 56.5 L478.6 58.3 L481.0 60.1 L483.4 62.0 L485.8 63.9 L488.2 65.8 L490.6 67.8 L493.0 69.7 L495.3 71.7 L497.6 73.7 L499.9 75.7 L502.1 77.7 L504.4 79.7 L506.6 81.8 L508.8 83.8 L511.0 85.9 L513.2 88.0 L515.3 90.2 L517.5 92.3 L519.6 94.5 L521.7 96.6 L523.7 98.8 L525.8 101.0 L527.8 103.2 L529.8 105.5 L531.8 107.7 L533.8 110.0 L535.8 112.3 L537.7 114.5 L539.6 116.9 L541.5 119.2 L543.4 121.5 L545.3 123.9 L547.1 126.2 L548.9 128.6 L550.8 131.0 L552.6 133.4 L554.3 135.8 L556.1 138.3 L557.8 140.7 L559.6 143.2 L561.3 145.6 L563.0 148.1 L564.6 150.6 L566.3 153.1 L567.9 155.6 L569.5 158.2 L571.1 160.7 L572.7 163.3 L574.3 165.8 L575.9 168.4 L577.4 171.0 L578.9 173.6 L580.4 176.2 L581.9 178.8 L583.4 181.4 L584.8 184.1 L586.3 186.7 L587.7 189.4 L589.1 192.1 L590.5 194.7 L591.9 197.4 L593.2 200.1 L594.6 202.8 L595.9 205.5 L597.2 208.3 L598.5 211.0 L599.8 213.7 L601.1 216.5 L602.4 219.2 L603.6 222.0 L604.8 224.8 L606.0 227.5 L607.2 230.3 L608.4 233.1 L609.6 235.9 L610.8 238.7 L611.9 241.5 L613.0 244.3 L614.1 247.2 L615.2 250.0 L616.3 252.8 L617.4 255.7 L618.5 258.5 L619.5 261.4 L620.5 264.2 L621.6 267.1 L622.6 270.0 L623.6 272.9 L624.5 275.7 L625.5 278.6 L626.5 281.5 L627.4 284.4 L628.3 287.3 L629.3 290.2 L630.2 293.1 L631.1 296.0 L631.9 298.9 L632.8 301.8 L633.7 304.7 L634.5 307.7 L635.3 310.6 L636.2 313.5 L637.0 316.4 L637.8 319.4 L638.6 322.3 L639.3 325.2 L640.1 328.2 L640.8 331.1 L641.6 334.0 L642.3 337.0 L643.0 339.9 L643.7 342.8 L644.4 345.8 L645.1 348.7 L645.8 351.7 L646.5 354.6 L647.1 357.6 L647.8 360.5 L648.4 363.4 L649.0 366.4 L649.6 369.3 L650.2 372.3 L650.8 375.2 L651.4 378.1 L652.0 381.1 L652.6 384.0 L653.1 386.9 L653.7 389.9 L654.2 392.8 L654.7 395.7 L655.2 398.6 L655.8 401.6 L656.3 404.5 L656.8 407.4" stroke="#ff0000" stroke-dasharray="12 8.5"/>
<path d="M466.0 54.6 L468.6 56.4 L471.1 58.2 L473.6 60.0 L476.1 61.8 L478.5 63.7 L480.9 65.6 L483.3 67.5 L485.7 69.4 L488.1 71.3 L490.5 73.2 L492.8 75.2 L495.1 77.2 L497.4 79.2 L499.7 81.2 L501.9 83.2 L504.1 85.3 L506.3 87.4 L508.5 89.5 L510.7 91.6 L512.9 93.7 L515.0 95.8 L517.1 98.0 L519.2 100.2 L521.3 102.3 L523.3 104.5 L525.4 106.8 L527.4 109.0 L529.4 111.2 L531.3 113.5 L533.3 115.8 L535.2 118.1 L537.2 120.4 L539.1 122.7 L541.0 125.0 L542.8 127.4 L544.7 129.8 L546.5 132.1 L548.3 134.5 L550.1 136.9 L551.9 139.4 L553.6 141.8 L555.4 144.2 L557.1 146.7 L558.8 149.2 L560.5 151.7 L562.2 154.2 L563.8 156.7 L565.5 159.2 L567.1 161.7 L568.7 164.3 L570.3 166.8 L571.8 169.4 L573.4 172.0 L574.9 174.6 L576.4 177.2 L577.9 179.8 L579.4 182.4 L580.9 185.0 L582.3 187.7 L583.8 190.3 L585.2 193.0 L586.6 195.7 L588.0 198.3 L589.4 201.0 L590.7 203.7 L592.0 206.4 L593.4 209.2 L594.7 211.9 L596.0 214.6 L597.2 217.4 L598.5 220.1 L599.7 222.9 L601.0 225.6 L602.2 228.4 L603.4 231.2 L604.6 234.0 L605.7 236.8 L606.9 239.6 L608.0 242.4 L609.2 245.2 L610.3 248.1 L611.4 250.9 L612.4 253.7 L613.5 256.6 L614.6 259.4 L615.6 262.3 L616.6 265.1 L617.6 268.0 L618.6 270.9 L619.6 273.8 L620.6 276.6 L621.5 279.5 L622.5 282.4 L623.4 285.3 L624.3 288.2 L625.2 291.1 L626.1 294.0 L626.9 296.9 L627.8 299.9 L628.7 302.8 L629.5 305.7 L630.3 308.6 L631.1 311.6 L631.9 314.5 L632.7 317.4 L633.4 320.4 L634.2 323.3 L634.9 326.2 L635.7 329.2 L636.4 332.1 L637.1 335.1 L637.8 338.0 L638.5 341.0 L639.1 343.9 L639.8 346.9 L640.4 349.8 L641.1 352.8 L641.7 355.7 L642.3 358.7 L642.9 361.6 L643.5 364.6 L644.1 367.6 L644.6 370.5 L645.2 373.5 L645.7 376.4 L646.3 379.4 L646.8 382.3 L647.3 385.3 L647.8 388.2 L648.3 391.2 L648.7 394.1 L649.2 397.0 L649.7 400.0 L650.1 402.9 L650.5 405.9 L651.0 408.8 L651.4 411.7" stroke="#ff0000"/>
</g>
<g fill="none" stroke-width="2" stroke-linecap="butt" stroke-linejoin="miter">
<path d="M478.73 86.90 L506.46 86.90 M494.96 80.90 L506.46 86.90 L494.96 92.90" stroke="#0000ff"/>
<path d="M507.53 125.72 L542.08 125.72 M530.58 119.72 L542.08 125.72 L530.58 131.72" stroke="#00ff00"/>
<path d="M537.39 180.75 L578.98 180.75 M567.48 174.75 L578.98 180.75 L567.48 186.75" stroke="#a00000"/>
<path d="M566.19 288.90 L623.14 288.90 M611.64 282.90 L623.14 288.90 L611.64 294.90" stroke="#ff8c00"/>
</g>
<g stroke="#000" stroke-width="2" fill="none">
<rect x="653.75" y="34.00" width="186.25" height="372.50"/>
<path d="M665.39 34.00v16.00M665.39 406.50v-16.00M688.67 34.00v8.00M688.67 406.50v-8.00M711.95 34.00v8.00M711.95 406.50v-8.00M735.23 34.00v8.00M735.23 406.50v-8.00M758.52 34.00v8.00M758.52 406.50v-8.00M781.80 34.00v16.00M781.80 406.50v-16.00M805.08 34.00v8.00M805.08 406.50v-8.00M828.36 34.00v8.00M828.36 406.50v-8.00M653.75 46.42h8.00M840.00 46.42h-8.00M653.75 71.25h8.00M840.00 71.25h-8.00M653.75 96.08h16.00M840.00 96.08h-16.00M653.75 120.92h8.00M840.00 120.92h-8.00M653.75 145.75h8.00M840.00 145.75h-8.00M653.75 170.58h8.00M840.00 170.58h-8.00M653.75 195.42h8.00M840.00 195.42h-8.00M653.75 220.25h16.00M840.00 220.25h-16.00M653.75 245.08h8.00M840.00 245.08h-8.00M653.75 269.92h8.00M840.00 269.92h-8.00M653.75 294.75h8.00M840.00 294.75h-8.00M653.75 319.58h8.00M840.00 319.58h-8.00M653.75 344.42h16.00M840.00 344.42h-16.00M653.75 369.25h8.00M840.00 369.25h-8.00M653.75 394.08h8.00M840.00 394.08h-8.00"/>
</g>
<g clip-path="url(#c4)" fill="none" stroke-width="2.3">
<path d="M651.8 86.8 L654.1 88.9 L656.3 91.1 L658.5 93.2 L660.7 95.4 L662.8 97.6 L665.0 99.8 L667.1 102.0 L669.2 104.2 L671.3 106.5 L673.3 108.7 L675.4 111.0 L677.4 113.3 L679.4 115.6 L681.4 117.9 L683.3 120.3 L685.3 122.6 L687.2 125.0 L689.1 127.3 L691.0 129.7 L692.9 132.1 L694.7 134.5 L696.6 136.9 L698.4 139.4 L700.2 141.8 L701.9 144.3 L703.7 146.8 L705.4 149.3 L707.1 151.7 L708.8 154.3 L710.5 156.8 L712.2 159.3 L713.8 161.9 L715.4 164.4 L717.0 167.0 L718.6 169.6 L720.2 172.1 L721.7 174.7 L723.2 177.4 L724.7 180.0 L726.2 182.6 L727.7 185.3 L729.2 187.9 L730.6 190.6 L732.0 193.2 L733.4 195.9 L734.8 198.6 L736.1 201.3 L737.5 204.0 L738.8 206.7 L740.1 209.5 L741.4 212.2 L742.7 215.0 L743.9 217.7 L745.1 220.5 L746.4 223.2 L747.6 226.0 L748.7 228.8 L749.9 231.6 L751.0 234.4 L752.2 237.2 L753.3 240.1 L754.4 242.9 L755.4 245.7 L756.5 248.6 L757.5 251.4 L758.5 254.3 L759.5 257.1 L760.5 260.0 L761.5 262.9 L762.4 265.8 L763.4 268.6 L764.3 271.5 L765.2 274.4 L766.0 277.3 L766.9 280.3 L767.7 283.2 L768.6 286.1 L769.4 289.0 L770.2 292.0 L770.9 294.9 L771.7 297.8 L772.4 300.8 L773.1 303.7 L773.8 306.7 L774.5 309.7 L775.2 312.6 L775.9 315.6 L776.5 318.6 L777.1 321.6 L777.7 324.5 L778.3 327.5 L778.9 330.5 L779.4 333.5 L779.9 336.5 L780.5 339.5 L781.0 342.5 L781.4 345.5 L781.9 348.5 L782.4 351.5 L782.8 354.5 L783.2 357.6 L783.6 360.6 L784.0 363.6 L784.4 366.6 L784.7 369.6 L785.0 372.7 L785.4 375.7 L785.7 378.7 L785.9 381.7 L786.2 384.8 L786.5 387.8 L786.7 390.8 L786.9 393.9 L787.1 396.9 L787.3 399.9 L787.5 403.0 L787.6 406.0 L787.8 409.0 L787.9 412.0" stroke="#000000" stroke-dasharray="12 8.5"/>
<path d="M652.0 75.9 L654.5 77.9 L656.9 79.8 L659.2 81.8 L661.6 83.8 L663.9 85.8 L666.2 87.9 L668.5 89.9 L670.8 92.0 L673.0 94.1 L675.3 96.2 L677.5 98.3 L679.7 100.4 L681.8 102.6 L684.0 104.7 L686.1 106.9 L688.2 109.1 L690.3 111.3 L692.3 113.5 L694.4 115.8 L696.4 118.0 L698.4 120.3 L700.4 122.6 L702.3 124.9 L704.3 127.2 L706.2 129.5 L708.1 131.8 L710.0 134.2 L711.9 136.5 L713.7 138.9 L715.6 141.3 L717.4 143.7 L719.2 146.1 L721.0 148.6 L722.7 151.0 L724.5 153.4 L726.2 155.9 L727.9 158.4 L729.6 160.9 L731.3 163.4 L733.0 165.9 L734.6 168.4 L736.2 170.9 L737.8 173.5 L739.4 176.0 L741.0 178.6 L742.6 181.2 L744.1 183.7 L745.7 186.3 L747.2 188.9 L748.7 191.6 L750.2 194.2 L751.7 196.8 L753.1 199.5 L754.6 202.1 L756.0 204.8 L757.4 207.4 L758.8 210.1 L760.2 212.8 L761.6 215.5 L763.0 218.2 L764.3 220.9 L765.6 223.6 L767.0 226.3 L768.3 229.1 L769.6 231.8 L770.9 234.6 L772.1 237.3 L773.4 240.1 L774.7 242.8 L775.9 245.6 L777.1 248.4 L778.3 251.2 L779.5 254.0 L780.7 256.8 L781.9 259.6 L783.1 262.4 L784.2 265.2 L785.4 268.0 L786.5 270.8 L787.7 273.6 L788.8 276.5 L789.9 279.3 L791.0 282.2 L792.1 285.0 L793.1 287.8 L794.2 290.7 L795.3 293.6 L796.3 296.4 L797.4 299.3 L798.4 302.1 L799.4 305.0 L800.4 307.9 L801.4 310.8 L802.4 313.6 L803.4 316.5 L804.4 319.4 L805.4 322.3 L806.4 325.2 L807.3 328.1 L808.3 330.9 L809.2 333.8 L810.2 336.7 L811.1 339.6 L812.0 342.5 L813.0 345.4 L813.9 348.3 L814.8 351.2 L815.7 354.1 L816.6 357.0 L817.5 359.9 L818.3 362.8 L819.2 365.7 L820.1 368.5 L821.0 371.4 L821.8 374.3 L822.7 377.2 L823.6 380.1 L824.4 383.0 L825.2 385.9 L826.1 388.8 L826.9 391.6 L827.8 394.5 L828.6 397.4 L829.4 400.3 L830.2 403.2 L831.1 406.0 L831.9 408.9 L832.7 411.8" stroke="#000000" stroke-dasharray="12 8.5"/>
<path d="M652.0 82.5 L654.3 84.5 L656.7 86.5 L659.0 88.6 L661.3 90.6 L663.6 92.7 L665.9 94.8 L668.1 97.0 L670.3 99.1 L672.6 101.2 L674.7 103.4 L676.9 105.6 L679.0 107.8 L681.1 110.0 L683.2 112.3 L685.3 114.5 L687.4 116.8 L689.4 119.1 L691.4 121.4 L693.4 123.7 L695.4 126.0 L697.3 128.3 L699.3 130.7 L701.2 133.1 L703.1 135.5 L704.9 137.8 L706.8 140.3 L708.6 142.7 L710.4 145.1 L712.2 147.6 L714.0 150.0 L715.8 152.5 L717.5 155.0 L719.2 157.5 L720.9 160.0 L722.6 162.6 L724.2 165.1 L725.9 167.7 L727.5 170.2 L729.1 172.8 L730.7 175.4 L732.2 178.0 L733.8 180.6 L735.3 183.2 L736.8 185.8 L738.3 188.5 L739.8 191.1 L741.2 193.8 L742.7 196.5 L744.1 199.2 L745.5 201.9 L746.9 204.6 L748.2 207.3 L749.6 210.0 L750.9 212.7 L752.2 215.5 L753.5 218.2 L754.8 221.0 L756.1 223.8 L757.3 226.5 L758.5 229.3 L759.7 232.1 L760.9 234.9 L762.1 237.7 L763.3 240.6 L764.4 243.4 L765.5 246.2 L766.7 249.1 L767.7 251.9 L768.8 254.8 L769.9 257.6 L770.9 260.5 L772.0 263.4 L773.0 266.2 L774.0 269.1 L775.0 272.0 L775.9 274.9 L776.9 277.8 L777.8 280.7 L778.7 283.7 L779.6 286.6 L780.5 289.5 L781.4 292.4 L782.3 295.4 L783.1 298.3 L783.9 301.3 L784.8 304.2 L785.6 307.2 L786.3 310.1 L787.1 313.1 L787.9 316.0 L788.6 319.0 L789.3 322.0 L790.1 325.0 L790.8 327.9 L791.4 330.9 L792.1 333.9 L792.8 336.9 L793.4 339.9 L794.0 342.9 L794.7 345.9 L795.3 348.9 L795.9 351.9 L796.4 354.9 L797.0 357.9 L797.5 360.9 L798.1 363.9 L798.6 366.9 L799.1 369.9 L799.6 372.9 L800.1 375.9 L800.6 378.9 L801.0 381.9 L801.5 384.9 L801.9 387.9 L802.4 390.9 L802.8 393.9 L803.2 396.9 L803.5 399.9 L803.9 402.9 L804.3 405.9 L804.6 408.9 L805.0 411.9" stroke="#000000"/>
<path d="M651.6 57.1 L654.2 58.8 L656.8 60.6 L659.3 62.5 L661.9 64.3 L664.4 66.1 L666.9 68.0 L669.3 69.9 L671.7 71.8 L674.2 73.8 L676.5 75.7 L678.9 77.7 L681.2 79.7 L683.6 81.7 L685.9 83.7 L688.1 85.8 L690.4 87.8 L692.6 89.9 L694.8 92.0 L697.0 94.1 L699.2 96.3 L701.3 98.4 L703.4 100.6 L705.5 102.8 L707.6 105.0 L709.7 107.2 L711.7 109.4 L713.7 111.7 L715.7 114.0 L717.7 116.2 L719.6 118.5 L721.6 120.9 L723.5 123.2 L725.4 125.5 L727.2 127.9 L729.1 130.3 L730.9 132.7 L732.7 135.1 L734.5 137.5 L736.3 139.9 L738.0 142.4 L739.8 144.8 L741.5 147.3 L743.2 149.8 L744.9 152.3 L746.5 154.8 L748.2 157.3 L749.8 159.9 L751.4 162.4 L753.0 165.0 L754.5 167.5 L756.1 170.1 L757.6 172.7 L759.1 175.3 L760.6 178.0 L762.1 180.6 L763.5 183.2 L765.0 185.9 L766.4 188.6 L767.8 191.2 L769.2 193.9 L770.5 196.6 L771.9 199.3 L773.2 202.0 L774.5 204.8 L775.8 207.5 L777.1 210.3 L778.4 213.0 L779.6 215.8 L780.9 218.5 L782.1 221.3 L783.3 224.1 L784.5 226.9 L785.6 229.7 L786.8 232.5 L787.9 235.3 L789.0 238.2 L790.2 241.0 L791.2 243.8 L792.3 246.7 L793.4 249.6 L794.4 252.4 L795.5 255.3 L796.5 258.2 L797.5 261.0 L798.5 263.9 L799.4 266.8 L800.4 269.7 L801.3 272.6 L802.3 275.5 L803.2 278.4 L804.1 281.4 L805.0 284.3 L805.9 287.2 L806.7 290.1 L807.6 293.1 L808.4 296.0 L809.2 299.0 L810.0 301.9 L810.8 304.9 L811.6 307.8 L812.4 310.8 L813.1 313.7 L813.9 316.7 L814.6 319.7 L815.3 322.6 L816.0 325.6 L816.7 328.6 L817.4 331.5 L818.1 334.5 L818.8 337.5 L819.4 340.5 L820.0 343.5 L820.7 346.4 L821.3 349.4 L821.9 352.4 L822.5 355.4 L823.1 358.4 L823.6 361.3 L824.2 364.3 L824.7 367.3 L825.3 370.3 L825.8 373.3 L826.3 376.2 L826.8 379.2 L827.3 382.2 L827.8 385.2 L828.3 388.2 L828.8 391.1 L829.2 394.1 L829.7 397.1 L830.1 400.0 L830.5 403.0 L830.9 406.0 L831.4 408.9 L831.8 411.9" stroke="#ff0000" stroke-dasharray="12 8.5"/>
<path d="M651.7 47.3 L654.4 49.0 L657.0 50.7 L659.6 52.5 L662.2 54.3 L664.7 56.1 L667.3 57.9 L669.8 59.7 L672.2 61.6 L674.7 63.5 L677.1 65.4 L679.5 67.3 L681.9 69.2 L684.3 71.2 L686.6 73.2 L688.9 75.2 L691.2 77.2 L693.5 79.2 L695.8 81.3 L698.0 83.3 L700.2 85.4 L702.4 87.5 L704.6 89.7 L706.7 91.8 L708.8 94.0 L710.9 96.1 L713.0 98.3 L715.0 100.5 L717.1 102.8 L719.1 105.0 L721.1 107.3 L723.1 109.5 L725.0 111.8 L727.0 114.1 L728.9 116.5 L730.8 118.8 L732.6 121.2 L734.5 123.5 L736.3 125.9 L738.1 128.3 L739.9 130.7 L741.7 133.1 L743.5 135.6 L745.2 138.0 L746.9 140.5 L748.6 143.0 L750.3 145.5 L752.0 148.0 L753.6 150.5 L755.2 153.0 L756.8 155.6 L758.4 158.1 L760.0 160.7 L761.5 163.3 L763.1 165.9 L764.6 168.5 L766.1 171.1 L767.6 173.7 L769.1 176.3 L770.5 179.0 L771.9 181.6 L773.4 184.3 L774.7 187.0 L776.1 189.7 L777.5 192.4 L778.8 195.1 L780.2 197.8 L781.5 200.5 L782.8 203.3 L784.1 206.0 L785.4 208.8 L786.6 211.5 L787.8 214.3 L789.1 217.1 L790.3 219.9 L791.5 222.7 L792.7 225.5 L793.8 228.3 L795.0 231.1 L796.1 233.9 L797.2 236.8 L798.3 239.6 L799.4 242.4 L800.5 245.3 L801.6 248.2 L802.6 251.0 L803.6 253.9 L804.7 256.8 L805.7 259.6 L806.7 262.5 L807.7 265.4 L808.6 268.3 L809.6 271.2 L810.5 274.1 L811.5 277.0 L812.4 280.0 L813.3 282.9 L814.2 285.8 L815.1 288.7 L815.9 291.6 L816.8 294.6 L817.6 297.5 L818.5 300.5 L819.3 303.4 L820.1 306.3 L820.9 309.3 L821.7 312.2 L822.5 315.2 L823.3 318.1 L824.0 321.1 L824.8 324.0 L825.5 327.0 L826.2 330.0 L826.9 332.9 L827.6 335.9 L828.3 338.8 L829.0 341.8 L829.7 344.8 L830.4 347.7 L831.0 350.7 L831.7 353.6 L832.3 356.6 L832.9 359.6 L833.6 362.5 L834.2 365.5 L834.8 368.4 L835.4 371.4 L835.9 374.3 L836.5 377.3 L837.1 380.2 L837.6 383.2 L838.2 386.1 L838.7 389.1 L839.3 392.0 L839.8 394.9 L840.3 397.9 L840.8 400.8 L841.4 403.7 L841.9 406.6 L842.3 409.5" stroke="#ff0000" stroke-dasharray="12 8.5"/>
<path d="M651.7 51.8 L654.3 53.5 L656.8 55.3 L659.4 57.0 L661.9 58.8 L664.4 60.7 L666.9 62.5 L669.3 64.4 L671.8 66.3 L674.2 68.2 L676.6 70.1 L679.0 72.0 L681.3 74.0 L683.6 75.9 L686.0 77.9 L688.2 80.0 L690.5 82.0 L692.7 84.0 L695.0 86.1 L697.2 88.2 L699.3 90.3 L701.5 92.4 L703.6 94.5 L705.8 96.7 L707.9 98.9 L709.9 101.0 L712.0 103.2 L714.0 105.5 L716.0 107.7 L718.0 110.0 L720.0 112.2 L722.0 114.5 L723.9 116.8 L725.8 119.1 L727.7 121.4 L729.6 123.8 L731.5 126.1 L733.3 128.5 L735.1 130.9 L736.9 133.3 L738.7 135.7 L740.5 138.1 L742.2 140.6 L743.9 143.0 L745.6 145.5 L747.3 148.0 L749.0 150.5 L750.7 153.0 L752.3 155.5 L753.9 158.0 L755.5 160.5 L757.1 163.1 L758.6 165.7 L760.2 168.2 L761.7 170.8 L763.2 173.4 L764.7 176.0 L766.2 178.7 L767.6 181.3 L769.1 184.0 L770.5 186.6 L771.9 189.3 L773.3 191.9 L774.7 194.6 L776.0 197.3 L777.4 200.0 L778.7 202.7 L780.0 205.5 L781.3 208.2 L782.6 210.9 L783.8 213.7 L785.0 216.5 L786.3 219.2 L787.5 222.0 L788.7 224.8 L789.9 227.6 L791.0 230.4 L792.2 233.2 L793.3 236.0 L794.4 238.8 L795.5 241.6 L796.6 244.5 L797.7 247.3 L798.7 250.2 L799.8 253.0 L800.8 255.9 L801.8 258.7 L802.8 261.6 L803.8 264.5 L804.8 267.4 L805.7 270.3 L806.6 273.2 L807.6 276.1 L808.5 279.0 L809.4 281.9 L810.3 284.8 L811.1 287.7 L812.0 290.6 L812.8 293.5 L813.7 296.5 L814.5 299.4 L815.3 302.3 L816.1 305.3 L816.9 308.2 L817.6 311.2 L818.4 314.1 L819.1 317.1 L819.9 320.0 L820.6 323.0 L821.3 325.9 L822.0 328.9 L822.6 331.9 L823.3 334.8 L824.0 337.8 L824.6 340.7 L825.2 343.7 L825.8 346.7 L826.5 349.6 L827.1 352.6 L827.6 355.6 L828.2 358.5 L828.8 361.5 L829.3 364.5 L829.9 367.4 L830.4 370.4 L830.9 373.4 L831.4 376.3 L831.9 379.3 L832.4 382.3 L832.9 385.2 L833.3 388.2 L833.8 391.2 L834.2 394.1 L834.7 397.1 L835.1 400.0 L835.5 403.0 L835.9 405.9 L836.3 408.9 L836.7 411.8" stroke="#ff0000"/>
</g>
<g fill="none" stroke-width="2" stroke-linecap="butt" stroke-linejoin="miter">
<path d="M664.73 94.36 L703.55 94.36 M692.05 88.36 L703.55 94.36 L692.05 100.36" stroke="#0000ff"/>
<path d="M694.59 125.72 L731.92 125.72 M720.42 119.72 L731.92 125.72 L720.42 131.72" stroke="#00ff00"/>
<path d="M723.39 163.47 L757.94 163.47 M746.44 157.47 L757.94 163.47 L746.44 169.47" stroke="#a00000"/>
<path d="M752.19 215.73 L784.82 215.73 M773.32 209.73 L784.82 215.73 L773.32 221.73" stroke="#ff8c00"/>
</g>
<g stroke="#000" stroke-width="2" fill="none">
<rect x="95.00" y="406.50" width="186.25" height="372.25"/>
<path d="M106.64 406.50v16.00M106.64 778.75v-16.00M129.92 406.50v8.00M129.92 778.75v-8.00M153.20 406.50v8.00M153.20 778.75v-8.00M176.48 406.50v8.00M176.48 778.75v-8.00M199.77 406.50v8.00M199.77 778.75v-8.00M223.05 406.50v16.00M223.05 778.75v-16.00M246.33 406.50v8.00M246.33 778.75v-8.00M269.61 406.50v8.00M269.61 778.75v-8.00M95.00 418.91h8.00M281.25 418.91h-8.00M95.00 443.73h8.00M281.25 443.73h-8.00M95.00 468.54h16.00M281.25 468.54h-16.00M95.00 493.36h8.00M281.25 493.36h-8.00M95.00 518.18h8.00M281.25 518.18h-8.00M95.00 542.99h8.00M281.25 542.99h-8.00M95.00 567.81h8.00M281.25 567.81h-8.00M95.00 592.62h16.00M281.25 592.62h-16.00M95.00 617.44h8.00M281.25 617.44h-8.00M95.00 642.26h8.00M281.25 642.26h-8.00M95.00 667.08h8.00M281.25 667.08h-8.00M95.00 691.89h8.00M281.25 691.89h-8.00M95.00 716.71h16.00M281.25 716.71h-16.00M95.00 741.53h8.00M281.25 741.53h-8.00M95.00 766.34h8.00M281.25 766.34h-8.00"/>
</g>
<g clip-path="url(#c5)" fill="none" stroke-width="2.3">
<path d="M93.5 480.6 L96.1 482.3 L98.7 484.0 L101.2 485.8 L103.7 487.5 L106.3 489.3 L108.7 491.1 L111.2 492.9 L113.7 494.8 L116.1 496.6 L118.5 498.5 L120.9 500.4 L123.3 502.3 L125.6 504.3 L128.0 506.2 L130.3 508.2 L132.6 510.2 L134.9 512.2 L137.1 514.2 L139.3 516.3 L141.6 518.4 L143.8 520.5 L145.9 522.6 L148.1 524.7 L150.2 526.8 L152.3 529.0 L154.4 531.1 L156.5 533.3 L158.6 535.5 L160.6 537.8 L162.6 540.0 L164.6 542.2 L166.6 544.5 L168.6 546.8 L170.5 549.1 L172.4 551.4 L174.3 553.7 L176.2 556.1 L178.1 558.5 L179.9 560.8 L181.7 563.2 L183.5 565.6 L185.3 568.1 L187.1 570.5 L188.8 572.9 L190.5 575.4 L192.2 577.9 L193.9 580.4 L195.6 582.9 L197.2 585.4 L198.9 587.9 L200.5 590.5 L202.0 593.0 L203.6 595.6 L205.2 598.2 L206.7 600.8 L208.2 603.4 L209.7 606.0 L211.1 608.6 L212.6 611.2 L214.0 613.9 L215.4 616.6 L216.8 619.2 L218.2 621.9 L219.5 624.6 L220.9 627.3 L222.2 630.0 L223.5 632.8 L224.8 635.5 L226.0 638.3 L227.2 641.0 L228.5 643.8 L229.7 646.5 L230.8 649.3 L232.0 652.1 L233.1 654.9 L234.3 657.7 L235.4 660.6 L236.5 663.4 L237.5 666.2 L238.6 669.1 L239.6 671.9 L240.6 674.8 L241.6 677.6 L242.6 680.5 L243.5 683.4 L244.5 686.3 L245.4 689.2 L246.3 692.1 L247.2 695.0 L248.0 697.9 L248.9 700.8 L249.7 703.7 L250.5 706.6 L251.3 709.6 L252.1 712.5 L252.8 715.5 L253.6 718.4 L254.3 721.4 L255.0 724.3 L255.6 727.3 L256.3 730.2 L257.0 733.2 L257.6 736.2 L258.2 739.2 L258.8 742.1 L259.4 745.1 L259.9 748.1 L260.4 751.1 L261.0 754.1 L261.5 757.1 L262.0 760.1 L262.4 763.1 L262.9 766.1 L263.3 769.1 L263.7 772.1 L264.1 775.1 L264.5 778.1 L264.9 781.1 L265.2 784.1" stroke="#000000" stroke-dasharray="12 8.5"/>
<path d="M93.4 469.9 L96.2 471.5 L98.9 473.0 L101.6 474.6 L104.2 476.2 L106.9 477.9 L109.5 479.5 L112.1 481.2 L114.7 482.9 L117.3 484.7 L119.8 486.4 L122.3 488.2 L124.8 490.0 L127.3 491.8 L129.7 493.7 L132.1 495.5 L134.5 497.4 L136.9 499.3 L139.3 501.2 L141.6 503.2 L143.9 505.2 L146.2 507.1 L148.5 509.1 L150.7 511.2 L152.9 513.2 L155.1 515.3 L157.3 517.4 L159.5 519.5 L161.6 521.6 L163.8 523.7 L165.8 525.9 L167.9 528.1 L170.0 530.3 L172.0 532.5 L174.0 534.7 L176.0 536.9 L178.0 539.2 L180.0 541.5 L181.9 543.8 L183.8 546.1 L185.7 548.4 L187.6 550.8 L189.4 553.1 L191.3 555.5 L193.1 557.9 L194.9 560.3 L196.6 562.7 L198.4 565.2 L200.1 567.6 L201.9 570.1 L203.5 572.6 L205.2 575.1 L206.9 577.6 L208.5 580.1 L210.1 582.6 L211.7 585.2 L213.3 587.7 L214.9 590.3 L216.4 592.9 L217.9 595.5 L219.4 598.1 L220.9 600.7 L222.4 603.4 L223.9 606.0 L225.3 608.7 L226.7 611.3 L228.1 614.0 L229.5 616.7 L230.8 619.4 L232.2 622.1 L233.5 624.9 L234.8 627.6 L236.1 630.3 L237.4 633.1 L238.6 635.8 L239.8 638.6 L241.1 641.4 L242.3 644.2 L243.5 647.0 L244.6 649.8 L245.8 652.6 L246.9 655.4 L248.0 658.2 L249.1 661.1 L250.2 663.9 L251.3 666.8 L252.3 669.6 L253.4 672.5 L254.4 675.4 L255.4 678.2 L256.4 681.1 L257.4 684.0 L258.3 686.9 L259.3 689.8 L260.2 692.7 L261.1 695.6 L262.0 698.5 L262.9 701.4 L263.8 704.4 L264.6 707.3 L265.5 710.2 L266.3 713.1 L267.1 716.1 L267.9 719.0 L268.7 722.0 L269.5 724.9 L270.2 727.9 L271.0 730.8 L271.7 733.8 L272.4 736.7 L273.1 739.7 L273.8 742.6 L274.4 745.6 L275.1 748.6 L275.7 751.5 L276.4 754.5 L277.0 757.4 L277.6 760.4 L278.2 763.4 L278.8 766.3 L279.3 769.3 L279.9 772.2 L280.4 775.2 L281.0 778.2 L281.5 781.1 L282.0 784.1" stroke="#000000" stroke-dasharray="12 8.5"/>
<path d="M93.5 475.1 L96.2 476.7 L98.9 478.4 L101.6 480.0 L104.2 481.7 L106.9 483.3 L109.5 485.1 L112.0 486.8 L114.6 488.5 L117.1 490.3 L119.6 492.1 L122.1 493.9 L124.6 495.8 L127.0 497.6 L129.4 499.5 L131.8 501.4 L134.2 503.4 L136.5 505.3 L138.9 507.3 L141.2 509.3 L143.4 511.3 L145.7 513.3 L147.9 515.4 L150.2 517.4 L152.3 519.5 L154.5 521.6 L156.7 523.7 L158.8 525.9 L160.9 528.0 L163.0 530.2 L165.0 532.4 L167.1 534.6 L169.1 536.9 L171.1 539.1 L173.1 541.4 L175.0 543.7 L177.0 546.0 L178.9 548.3 L180.8 550.6 L182.6 553.0 L184.5 555.3 L186.3 557.7 L188.1 560.1 L189.9 562.5 L191.7 565.0 L193.4 567.4 L195.2 569.9 L196.9 572.3 L198.6 574.8 L200.2 577.3 L201.9 579.8 L203.5 582.4 L205.1 584.9 L206.7 587.5 L208.3 590.0 L209.8 592.6 L211.4 595.2 L212.9 597.8 L214.4 600.4 L215.8 603.1 L217.3 605.7 L218.7 608.4 L220.2 611.0 L221.6 613.7 L222.9 616.4 L224.3 619.1 L225.7 621.8 L227.0 624.5 L228.3 627.2 L229.6 630.0 L230.9 632.7 L232.1 635.5 L233.3 638.3 L234.6 641.0 L235.8 643.8 L236.9 646.6 L238.1 649.4 L239.3 652.2 L240.4 655.0 L241.5 657.9 L242.6 660.7 L243.7 663.6 L244.8 666.4 L245.8 669.3 L246.8 672.1 L247.8 675.0 L248.8 677.9 L249.8 680.8 L250.8 683.6 L251.7 686.5 L252.7 689.4 L253.6 692.4 L254.5 695.3 L255.4 698.2 L256.2 701.1 L257.1 704.0 L257.9 707.0 L258.7 709.9 L259.5 712.8 L260.3 715.8 L261.1 718.7 L261.9 721.7 L262.6 724.6 L263.3 727.6 L264.1 730.6 L264.8 733.5 L265.4 736.5 L266.1 739.4 L266.8 742.4 L267.4 745.4 L268.0 748.4 L268.6 751.3 L269.2 754.3 L269.8 757.3 L270.4 760.3 L270.9 763.2 L271.5 766.2 L272.0 769.2 L272.5 772.2 L273.0 775.2 L273.5 778.1 L274.0 781.1 L274.4 784.1" stroke="#000000"/>
<path d="M93.7 444.9 L96.4 446.6 L99.1 448.2 L101.8 449.9 L104.4 451.6 L107.0 453.3 L109.6 455.1 L112.1 456.8 L114.7 458.6 L117.2 460.5 L119.6 462.3 L122.1 464.2 L124.5 466.0 L126.9 467.9 L129.3 469.9 L131.7 471.8 L134.0 473.8 L136.3 475.8 L138.6 477.8 L140.8 479.8 L143.1 481.9 L145.3 483.9 L147.5 486.0 L149.6 488.1 L151.8 490.3 L153.9 492.4 L156.0 494.6 L158.1 496.8 L160.1 499.0 L162.2 501.2 L164.2 503.4 L166.1 505.7 L168.1 508.0 L170.0 510.3 L172.0 512.6 L173.9 514.9 L175.7 517.2 L177.6 519.6 L179.4 522.0 L181.2 524.4 L183.0 526.8 L184.8 529.2 L186.5 531.6 L188.3 534.1 L190.0 536.6 L191.7 539.0 L193.3 541.5 L195.0 544.1 L196.6 546.6 L198.2 549.1 L199.8 551.7 L201.3 554.3 L202.9 556.8 L204.4 559.4 L205.9 562.0 L207.4 564.7 L208.9 567.3 L210.3 569.9 L211.8 572.6 L213.2 575.3 L214.6 577.9 L216.0 580.6 L217.3 583.3 L218.7 586.0 L220.0 588.8 L221.3 591.5 L222.6 594.2 L223.9 597.0 L225.1 599.8 L226.3 602.5 L227.6 605.3 L228.8 608.1 L230.0 610.9 L231.1 613.7 L232.3 616.5 L233.4 619.3 L234.5 622.2 L235.6 625.0 L236.7 627.9 L237.8 630.7 L238.8 633.6 L239.9 636.5 L240.9 639.3 L241.9 642.2 L242.9 645.1 L243.9 648.0 L244.9 650.9 L245.8 653.8 L246.7 656.7 L247.7 659.6 L248.6 662.5 L249.5 665.5 L250.3 668.4 L251.2 671.3 L252.1 674.3 L252.9 677.2 L253.7 680.2 L254.5 683.1 L255.3 686.1 L256.1 689.0 L256.9 692.0 L257.6 694.9 L258.4 697.9 L259.1 700.9 L259.8 703.8 L260.5 706.8 L261.2 709.8 L261.9 712.7 L262.6 715.7 L263.2 718.7 L263.9 721.7 L264.5 724.6 L265.1 727.6 L265.7 730.6 L266.3 733.5 L266.9 736.5 L267.5 739.5 L268.1 742.5 L268.6 745.4 L269.2 748.4 L269.7 751.4 L270.2 754.3 L270.7 757.3 L271.2 760.2 L271.7 763.2 L272.2 766.2 L272.7 769.1 L273.2 772.1 L273.6 775.0 L274.1 777.9 L274.5 780.9 L274.9 783.8" stroke="#ff0000" stroke-dasharray="12 8.5"/>
<path d="M93.6 436.5 L96.4 438.1 L99.1 439.7 L101.8 441.3 L104.5 442.9 L107.2 444.6 L109.8 446.2 L112.4 447.9 L115.0 449.7 L117.5 451.4 L120.1 453.2 L122.6 455.0 L125.1 456.8 L127.5 458.7 L129.9 460.5 L132.3 462.4 L134.7 464.4 L137.1 466.3 L139.4 468.2 L141.7 470.2 L144.0 472.2 L146.2 474.2 L148.5 476.3 L150.7 478.3 L152.8 480.4 L155.0 482.5 L157.1 484.6 L159.3 486.8 L161.3 488.9 L163.4 491.1 L165.5 493.3 L167.5 495.5 L169.5 497.8 L171.5 500.0 L173.4 502.3 L175.3 504.6 L177.2 506.9 L179.1 509.2 L181.0 511.5 L182.9 513.9 L184.7 516.3 L186.5 518.6 L188.3 521.0 L190.0 523.5 L191.8 525.9 L193.5 528.4 L195.2 530.8 L196.9 533.3 L198.5 535.8 L200.2 538.3 L201.8 540.8 L203.4 543.4 L204.9 545.9 L206.5 548.5 L208.0 551.1 L209.6 553.7 L211.1 556.3 L212.6 558.9 L214.0 561.5 L215.5 564.2 L216.9 566.8 L218.3 569.5 L219.7 572.2 L221.1 574.8 L222.4 577.5 L223.7 580.3 L225.1 583.0 L226.4 585.7 L227.6 588.5 L228.9 591.2 L230.2 594.0 L231.4 596.7 L232.6 599.5 L233.8 602.3 L235.0 605.1 L236.1 607.9 L237.3 610.7 L238.4 613.6 L239.5 616.4 L240.6 619.2 L241.7 622.1 L242.8 624.9 L243.9 627.8 L244.9 630.7 L245.9 633.6 L246.9 636.4 L247.9 639.3 L248.9 642.2 L249.9 645.1 L250.8 648.0 L251.7 650.9 L252.7 653.8 L253.6 656.8 L254.5 659.7 L255.3 662.6 L256.2 665.6 L257.1 668.5 L257.9 671.4 L258.7 674.4 L259.5 677.3 L260.3 680.3 L261.1 683.2 L261.9 686.2 L262.7 689.1 L263.4 692.1 L264.2 695.1 L264.9 698.0 L265.6 701.0 L266.3 704.0 L267.0 706.9 L267.7 709.9 L268.3 712.9 L269.0 715.8 L269.6 718.8 L270.3 721.8 L270.9 724.7 L271.5 727.7 L272.1 730.7 L272.7 733.7 L273.3 736.6 L273.9 739.6 L274.4 742.5 L275.0 745.5 L275.5 748.5 L276.0 751.4 L276.6 754.4 L277.1 757.3 L277.6 760.3 L278.1 763.2 L278.6 766.1 L279.1 769.1 L279.5 772.0 L280.0 774.9 L280.4 777.9 L280.9 780.8 L281.3 783.7" stroke="#ff0000" stroke-dasharray="12 8.5"/>
<path d="M93.6 440.7 L96.4 442.3 L99.1 443.9 L101.8 445.6 L104.5 447.2 L107.1 448.9 L109.7 450.6 L112.3 452.4 L114.9 454.1 L117.4 455.9 L119.9 457.7 L122.4 459.5 L124.9 461.4 L127.3 463.2 L129.7 465.1 L132.1 467.0 L134.5 469.0 L136.8 470.9 L139.1 472.9 L141.4 474.9 L143.7 476.9 L145.9 479.0 L148.1 481.0 L150.3 483.1 L152.5 485.2 L154.6 487.3 L156.7 489.5 L158.8 491.6 L160.9 493.8 L162.9 496.0 L165.0 498.2 L167.0 500.5 L169.0 502.7 L170.9 505.0 L172.8 507.3 L174.8 509.6 L176.6 511.9 L178.5 514.3 L180.4 516.6 L182.2 519.0 L184.0 521.4 L185.8 523.8 L187.5 526.2 L189.3 528.6 L191.0 531.1 L192.7 533.6 L194.4 536.1 L196.0 538.6 L197.7 541.1 L199.3 543.6 L200.9 546.1 L202.5 548.7 L204.0 551.3 L205.6 553.8 L207.1 556.4 L208.6 559.0 L210.1 561.7 L211.5 564.3 L213.0 567.0 L214.4 569.6 L215.8 572.3 L217.2 575.0 L218.6 577.7 L219.9 580.4 L221.2 583.1 L222.6 585.8 L223.8 588.5 L225.1 591.3 L226.4 594.0 L227.6 596.8 L228.9 599.6 L230.1 602.4 L231.3 605.2 L232.5 608.0 L233.6 610.8 L234.8 613.6 L235.9 616.4 L237.0 619.3 L238.1 622.1 L239.2 625.0 L240.2 627.8 L241.3 630.7 L242.3 633.6 L243.4 636.4 L244.4 639.3 L245.3 642.2 L246.3 645.1 L247.3 648.0 L248.2 650.9 L249.2 653.8 L250.1 656.8 L251.0 659.7 L251.9 662.6 L252.8 665.5 L253.6 668.5 L254.5 671.4 L255.3 674.4 L256.1 677.3 L256.9 680.3 L257.7 683.2 L258.5 686.2 L259.3 689.1 L260.1 692.1 L260.8 695.0 L261.5 698.0 L262.3 701.0 L263.0 703.9 L263.7 706.9 L264.4 709.9 L265.0 712.9 L265.7 715.8 L266.4 718.8 L267.0 721.8 L267.6 724.7 L268.3 727.7 L268.9 730.7 L269.5 733.6 L270.1 736.6 L270.7 739.6 L271.2 742.5 L271.8 745.5 L272.3 748.5 L272.9 751.4 L273.4 754.4 L273.9 757.3 L274.5 760.3 L275.0 763.2 L275.5 766.2 L276.0 769.1 L276.4 772.1 L276.9 775.0 L277.4 777.9 L277.8 780.8 L278.3 783.8" stroke="#ff0000"/>
</g>
<g fill="none" stroke-width="2" stroke-linecap="butt" stroke-linejoin="miter">
<path d="M106.73 484.28 L150.46 484.28 M138.96 478.28 L150.46 484.28 L138.96 490.28" stroke="#0000ff"/>
<path d="M135.53 506.25 L172.22 506.25 M160.72 500.25 L172.22 506.25 L160.72 512.25" stroke="#00ff00"/>
<path d="M165.39 533.34 L193.12 533.34 M181.62 527.34 L193.12 533.34 L181.62 539.34" stroke="#a00000"/>
<path d="M194.19 567.47 L214.45 567.47 M202.95 561.47 L214.45 567.47 L202.95 573.47" stroke="#ff8c00"/>
</g>
<g stroke="#000" stroke-width="2" fill="none">
<rect x="281.25" y="406.50" width="186.25" height="372.25"/>
<path d="M292.89 406.50v16.00M292.89 778.75v-16.00M316.17 406.50v8.00M316.17 778.75v-8.00M339.45 406.50v8.00M339.45 778.75v-8.00M362.73 406.50v8.00M362.73 778.75v-8.00M386.02 406.50v8.00M386.02 778.75v-8.00M409.30 406.50v16.00M409.30 778.75v-16.00M432.58 406.50v8.00M432.58 778.75v-8.00M455.86 406.50v8.00M455.86 778.75v-8.00M281.25 418.91h8.00M467.50 418.91h-8.00M281.25 443.73h8.00M467.50 443.73h-8.00M281.25 468.54h16.00M467.50 468.54h-16.00M281.25 493.36h8.00M467.50 493.36h-8.00M281.25 518.18h8.00M467.50 518.18h-8.00M281.25 542.99h8.00M467.50 542.99h-8.00M281.25 567.81h8.00M467.50 567.81h-8.00M281.25 592.62h16.00M467.50 592.62h-16.00M281.25 617.44h8.00M467.50 617.44h-8.00M281.25 642.26h8.00M467.50 642.26h-8.00M281.25 667.08h8.00M467.50 667.08h-8.00M281.25 691.89h8.00M467.50 691.89h-8.00M281.25 716.71h16.00M467.50 716.71h-16.00M281.25 741.53h8.00M467.50 741.53h-8.00M281.25 766.34h8.00M467.50 766.34h-8.00"/>
</g>
<g clip-path="url(#c6)" fill="none" stroke-width="2.3">
<path d="M279.9 505.8 L282.4 507.6 L284.9 509.5 L287.4 511.3 L289.8 513.2 L292.2 515.2 L294.6 517.1 L297.0 519.1 L299.4 521.1 L301.7 523.1 L304.0 525.1 L306.3 527.1 L308.5 529.2 L310.8 531.3 L313.0 533.4 L315.2 535.5 L317.4 537.6 L319.5 539.8 L321.7 541.9 L323.8 544.1 L325.9 546.3 L327.9 548.5 L330.0 550.8 L332.0 553.0 L334.0 555.3 L336.0 557.6 L338.0 559.9 L339.9 562.2 L341.8 564.5 L343.7 566.9 L345.6 569.3 L347.5 571.6 L349.3 574.0 L351.2 576.4 L353.0 578.9 L354.8 581.3 L356.5 583.8 L358.3 586.2 L360.0 588.7 L361.7 591.2 L363.4 593.7 L365.1 596.2 L366.8 598.8 L368.4 601.3 L370.0 603.9 L371.6 606.4 L373.2 609.0 L374.8 611.6 L376.4 614.2 L377.9 616.8 L379.4 619.4 L380.9 622.1 L382.4 624.7 L383.9 627.4 L385.3 630.0 L386.8 632.7 L388.2 635.4 L389.6 638.1 L391.0 640.8 L392.4 643.5 L393.8 646.2 L395.1 649.0 L396.4 651.7 L397.7 654.5 L399.0 657.2 L400.3 660.0 L401.6 662.7 L402.9 665.5 L404.1 668.3 L405.3 671.1 L406.6 673.9 L407.8 676.7 L408.9 679.5 L410.1 682.3 L411.3 685.2 L412.4 688.0 L413.6 690.8 L414.7 693.7 L415.8 696.5 L416.9 699.4 L418.0 702.2 L419.1 705.1 L420.1 707.9 L421.2 710.8 L422.2 713.7 L423.2 716.6 L424.3 719.4 L425.3 722.3 L426.3 725.2 L427.2 728.1 L428.2 731.0 L429.2 733.9 L430.1 736.8 L431.0 739.7 L432.0 742.6 L432.9 745.5 L433.8 748.4 L434.7 751.3 L435.6 754.2 L436.5 757.1 L437.3 760.0 L438.2 762.9 L439.0 765.8 L439.9 768.7 L440.7 771.6 L441.5 774.5" stroke="#000000" stroke-dasharray="12 8.5"/>
<path d="M280.2 483.3 L282.5 485.3 L284.8 487.2 L287.2 489.2 L289.5 491.1 L291.8 493.1 L294.1 495.1 L296.3 497.1 L298.6 499.1 L300.8 501.2 L303.1 503.2 L305.3 505.3 L307.5 507.4 L309.7 509.4 L311.9 511.5 L314.1 513.6 L316.3 515.8 L318.4 517.9 L320.6 520.0 L322.7 522.2 L324.8 524.4 L327.0 526.5 L329.1 528.7 L331.1 530.9 L333.2 533.1 L335.3 535.4 L337.3 537.6 L339.4 539.8 L341.4 542.1 L343.4 544.4 L345.4 546.6 L347.4 548.9 L349.4 551.2 L351.4 553.5 L353.3 555.9 L355.3 558.2 L357.2 560.5 L359.1 562.9 L361.0 565.3 L362.9 567.6 L364.8 570.0 L366.7 572.4 L368.5 574.8 L370.4 577.2 L372.2 579.6 L374.0 582.1 L375.8 584.5 L377.6 587.0 L379.4 589.4 L381.2 591.9 L382.9 594.4 L384.7 596.8 L386.4 599.3 L388.1 601.8 L389.8 604.4 L391.5 606.9 L393.2 609.4 L394.9 612.0 L396.5 614.5 L398.2 617.1 L399.8 619.6 L401.4 622.2 L403.0 624.8 L404.6 627.4 L406.2 630.0 L407.8 632.6 L409.3 635.2 L410.9 637.8 L412.4 640.4 L413.9 643.1 L415.4 645.7 L416.9 648.3 L418.4 651.0 L419.8 653.7 L421.3 656.3 L422.7 659.0 L424.1 661.7 L425.5 664.4 L426.9 667.1 L428.3 669.8 L429.7 672.5 L431.1 675.2 L432.4 678.0 L433.7 680.7 L435.1 683.4 L436.4 686.2 L437.7 688.9 L438.9 691.7 L440.2 694.4 L441.4 697.2 L442.7 700.0 L443.9 702.8 L445.1 705.5 L446.3 708.3 L447.5 711.1 L448.7 713.9 L449.8 716.7 L451.0 719.6 L452.1 722.4 L453.2 725.2 L454.3 728.0 L455.4 730.9 L456.5 733.7 L457.6 736.5 L458.6 739.4 L459.7 742.2 L460.7 745.1 L461.7 747.9 L462.7 750.8 L463.7 753.7 L464.6 756.5 L465.6 759.4 L466.5 762.3 L467.4 765.2 L468.4 768.1 L469.3 771.0 L470.1 773.9 L471.0 776.8 L471.9 779.7" stroke="#000000" stroke-dasharray="12 8.5"/>
<path d="M279.9 493.0 L282.3 494.9 L284.7 496.9 L287.1 498.8 L289.5 500.8 L291.9 502.7 L294.2 504.7 L296.6 506.7 L298.9 508.7 L301.2 510.8 L303.5 512.8 L305.7 514.9 L308.0 517.0 L310.2 519.1 L312.4 521.2 L314.6 523.3 L316.8 525.4 L319.0 527.6 L321.1 529.7 L323.3 531.9 L325.4 534.1 L327.5 536.3 L329.5 538.5 L331.6 540.7 L333.7 543.0 L335.7 545.2 L337.7 547.5 L339.7 549.8 L341.7 552.1 L343.7 554.4 L345.6 556.7 L347.5 559.1 L349.5 561.4 L351.4 563.7 L353.3 566.1 L355.1 568.5 L357.0 570.9 L358.9 573.3 L360.7 575.7 L362.5 578.1 L364.3 580.6 L366.1 583.0 L367.9 585.5 L369.6 587.9 L371.4 590.4 L373.1 592.9 L374.8 595.4 L376.5 597.9 L378.2 600.4 L379.9 602.9 L381.6 605.5 L383.2 608.0 L384.9 610.6 L386.5 613.1 L388.1 615.7 L389.7 618.3 L391.3 620.9 L392.8 623.5 L394.4 626.1 L396.0 628.7 L397.5 631.3 L399.0 633.9 L400.5 636.6 L402.0 639.2 L403.5 641.9 L405.0 644.5 L406.4 647.2 L407.9 649.9 L409.3 652.6 L410.7 655.2 L412.2 657.9 L413.6 660.6 L414.9 663.4 L416.3 666.1 L417.7 668.8 L419.0 671.5 L420.4 674.3 L421.7 677.0 L423.1 679.7 L424.4 682.5 L425.7 685.2 L427.0 688.0 L428.2 690.8 L429.5 693.5 L430.8 696.3 L432.0 699.1 L433.3 701.9 L434.5 704.7 L435.7 707.5 L436.9 710.3 L438.1 713.1 L439.3 715.9 L440.5 718.7 L441.7 721.5 L442.9 724.3 L444.0 727.2 L445.2 730.0 L446.3 732.8 L447.4 735.6 L448.5 738.5 L449.7 741.3 L450.8 744.1 L451.9 747.0 L452.9 749.8 L454.0 752.7 L455.1 755.5 L456.1 758.4 L457.2 761.2 L458.2 764.1 L459.3 766.9 L460.3 769.8 L461.3 772.6 L462.4 775.5 L463.4 778.4 L464.4 781.2 L465.4 784.1" stroke="#000000"/>
<path d="M279.7 473.9 L282.4 475.4 L285.2 476.9 L287.9 478.5 L290.6 480.1 L293.2 481.7 L295.9 483.3 L298.5 485.0 L301.1 486.7 L303.6 488.4 L306.2 490.1 L308.7 491.9 L311.2 493.6 L313.7 495.4 L316.1 497.3 L318.6 499.1 L321.0 501.0 L323.3 502.9 L325.7 504.8 L328.0 506.8 L330.3 508.7 L332.6 510.7 L334.9 512.7 L337.1 514.7 L339.3 516.8 L341.5 518.9 L343.7 520.9 L345.9 523.0 L348.0 525.2 L350.1 527.3 L352.2 529.5 L354.2 531.7 L356.3 533.9 L358.3 536.1 L360.3 538.4 L362.3 540.6 L364.2 542.9 L366.1 545.2 L368.0 547.5 L369.9 549.8 L371.8 552.2 L373.6 554.6 L375.5 556.9 L377.3 559.3 L379.1 561.8 L380.8 564.2 L382.6 566.6 L384.3 569.1 L386.0 571.6 L387.6 574.1 L389.3 576.6 L390.9 579.1 L392.6 581.6 L394.2 584.2 L395.7 586.8 L397.3 589.3 L398.8 591.9 L400.3 594.5 L401.8 597.2 L403.3 599.8 L404.8 602.4 L406.2 605.1 L407.6 607.8 L409.0 610.4 L410.4 613.1 L411.8 615.8 L413.1 618.6 L414.5 621.3 L415.8 624.0 L417.0 626.8 L418.3 629.5 L419.6 632.3 L420.8 635.1 L422.0 637.8 L423.2 640.6 L424.4 643.4 L425.5 646.3 L426.7 649.1 L427.8 651.9 L428.9 654.7 L430.0 657.6 L431.1 660.4 L432.1 663.3 L433.2 666.2 L434.2 669.0 L435.2 671.9 L436.2 674.8 L437.1 677.7 L438.1 680.6 L439.0 683.5 L439.9 686.4 L440.8 689.3 L441.7 692.2 L442.6 695.2 L443.4 698.1 L444.3 701.0 L445.1 704.0 L445.9 706.9 L446.7 709.9 L447.4 712.8 L448.2 715.8 L448.9 718.7 L449.6 721.7 L450.3 724.6 L451.0 727.6 L451.7 730.6 L452.4 733.5 L453.0 736.5 L453.6 739.5 L454.2 742.4 L454.8 745.4 L455.4 748.4 L456.0 751.3 L456.6 754.3 L457.1 757.3 L457.6 760.2 L458.1 763.2 L458.6 766.2 L459.1 769.2 L459.6 772.1 L460.0 775.1 L460.5 778.0 L460.9 781.0 L461.3 784.0" stroke="#ff0000" stroke-dasharray="12 8.5"/>
<path d="M279.6 465.4 L282.4 466.8 L285.2 468.3 L288.0 469.8 L290.8 471.4 L293.5 472.9 L296.2 474.5 L298.8 476.1 L301.5 477.8 L304.1 479.4 L306.7 481.1 L309.3 482.9 L311.8 484.6 L314.3 486.4 L316.8 488.1 L319.3 490.0 L321.8 491.8 L324.2 493.7 L326.6 495.5 L329.0 497.4 L331.3 499.4 L333.7 501.3 L336.0 503.3 L338.3 505.3 L340.5 507.3 L342.8 509.3 L345.0 511.4 L347.2 513.5 L349.4 515.6 L351.5 517.7 L353.6 519.8 L355.7 522.0 L357.8 524.2 L359.9 526.4 L361.9 528.6 L364.0 530.8 L365.9 533.1 L367.9 535.3 L369.9 537.6 L371.8 539.9 L373.7 542.3 L375.6 544.6 L377.5 547.0 L379.3 549.3 L381.2 551.7 L383.0 554.1 L384.8 556.6 L386.5 559.0 L388.3 561.5 L390.0 563.9 L391.7 566.4 L393.4 568.9 L395.1 571.4 L396.7 574.0 L398.3 576.5 L400.0 579.1 L401.5 581.6 L403.1 584.2 L404.7 586.8 L406.2 589.4 L407.7 592.1 L409.2 594.7 L410.7 597.4 L412.1 600.0 L413.6 602.7 L415.0 605.4 L416.4 608.1 L417.8 610.8 L419.1 613.5 L420.5 616.3 L421.8 619.0 L423.1 621.7 L424.4 624.5 L425.7 627.3 L427.0 630.1 L428.2 632.8 L429.4 635.6 L430.6 638.5 L431.8 641.3 L433.0 644.1 L434.1 646.9 L435.3 649.8 L436.4 652.6 L437.5 655.5 L438.6 658.3 L439.7 661.2 L440.7 664.1 L441.8 667.0 L442.8 669.9 L443.8 672.7 L444.8 675.6 L445.8 678.6 L446.7 681.5 L447.7 684.4 L448.6 687.3 L449.5 690.2 L450.4 693.2 L451.3 696.1 L452.2 699.0 L453.1 702.0 L453.9 704.9 L454.7 707.9 L455.5 710.8 L456.3 713.8 L457.1 716.7 L457.9 719.7 L458.7 722.6 L459.4 725.6 L460.1 728.5 L460.8 731.5 L461.6 734.5 L462.2 737.4 L462.9 740.4 L463.6 743.4 L464.2 746.3 L464.9 749.3 L465.5 752.2 L466.1 755.2 L466.7 758.2 L467.3 761.1 L467.9 764.1 L468.4 767.0 L469.0 770.0 L469.5 773.0 L470.0 775.9 L470.5 778.8 L471.0 781.8" stroke="#ff0000" stroke-dasharray="12 8.5"/>
<path d="M279.6 469.6 L282.4 471.1 L285.2 472.6 L287.9 474.2 L290.6 475.7 L293.3 477.3 L296.0 478.9 L298.6 480.5 L301.3 482.2 L303.8 483.9 L306.4 485.6 L309.0 487.3 L311.5 489.1 L314.0 490.9 L316.5 492.7 L318.9 494.5 L321.3 496.3 L323.7 498.2 L326.1 500.1 L328.5 502.0 L330.8 504.0 L333.1 505.9 L335.4 507.9 L337.7 509.9 L339.9 511.9 L342.1 514.0 L344.3 516.1 L346.5 518.1 L348.7 520.3 L350.8 522.4 L352.9 524.5 L355.0 526.7 L357.1 528.9 L359.1 531.1 L361.1 533.3 L363.1 535.5 L365.1 537.8 L367.1 540.1 L369.0 542.4 L370.9 544.7 L372.8 547.0 L374.7 549.4 L376.5 551.7 L378.4 554.1 L380.2 556.5 L382.0 558.9 L383.7 561.4 L385.5 563.8 L387.2 566.3 L388.9 568.7 L390.6 571.2 L392.3 573.7 L393.9 576.3 L395.5 578.8 L397.1 581.3 L398.7 583.9 L400.3 586.5 L401.8 589.1 L403.3 591.7 L404.9 594.3 L406.3 596.9 L407.8 599.6 L409.3 602.2 L410.7 604.9 L412.1 607.6 L413.5 610.3 L414.9 613.0 L416.2 615.7 L417.5 618.4 L418.9 621.1 L420.2 623.9 L421.4 626.6 L422.7 629.4 L423.9 632.2 L425.2 634.9 L426.4 637.7 L427.6 640.5 L428.7 643.3 L429.9 646.2 L431.0 649.0 L432.1 651.8 L433.2 654.7 L434.3 657.5 L435.4 660.4 L436.4 663.2 L437.4 666.1 L438.5 669.0 L439.5 671.9 L440.4 674.8 L441.4 677.7 L442.3 680.6 L443.3 683.5 L444.2 686.4 L445.1 689.3 L446.0 692.2 L446.8 695.1 L447.7 698.1 L448.5 701.0 L449.3 704.0 L450.1 706.9 L450.9 709.8 L451.7 712.8 L452.4 715.7 L453.2 718.7 L453.9 721.7 L454.6 724.6 L455.3 727.6 L455.9 730.6 L456.6 733.5 L457.2 736.5 L457.9 739.5 L458.5 742.4 L459.1 745.4 L459.7 748.4 L460.3 751.3 L460.8 754.3 L461.3 757.3 L461.9 760.2 L462.4 763.2 L462.9 766.2 L463.4 769.1 L463.9 772.1 L464.3 775.1 L464.8 778.0 L465.2 781.0 L465.6 783.9" stroke="#ff0000"/>
</g>
<g fill="none" stroke-width="2" stroke-linecap="butt" stroke-linejoin="miter">
<path d="M292.73 504.12 L329.63 504.12 M318.13 498.12 L329.63 504.12 L318.13 510.12" stroke="#0000ff"/>
<path d="M321.53 531.42 L359.92 531.42 M348.42 525.42 L359.92 531.42 L348.42 537.42" stroke="#00ff00"/>
<path d="M351.39 563.84 L386.58 563.84 M375.08 557.84 L386.58 563.84 L375.08 569.84" stroke="#a00000"/>
<path d="M380.19 602.67 L410.05 602.67 M398.55 596.67 L410.05 602.67 L398.55 608.67" stroke="#ff8c00"/>
</g>
<g stroke="#000" stroke-width="2" fill="none">
<rect x="467.50" y="406.50" width="186.25" height="372.25"/>
<path d="M479.14 406.50v16.00M479.14 778.75v-16.00M502.42 406.50v8.00M502.42 778.75v-8.00M525.70 406.50v8.00M525.70 778.75v-8.00M548.98 406.50v8.00M548.98 778.75v-8.00M572.27 406.50v8.00M572.27 778.75v-8.00M595.55 406.50v16.00M595.55 778.75v-16.00M618.83 406.50v8.00M618.83 778.75v-8.00M642.11 406.50v8.00M642.11 778.75v-8.00M467.50 418.91h8.00M653.75 418.91h-8.00M467.50 443.73h8.00M653.75 443.73h-8.00M467.50 468.54h16.00M653.75 468.54h-16.00M467.50 493.36h8.00M653.75 493.36h-8.00M467.50 518.18h8.00M653.75 518.18h-8.00M467.50 542.99h8.00M653.75 542.99h-8.00M467.50 567.81h8.00M653.75 567.81h-8.00M467.50 592.62h16.00M653.75 592.62h-16.00M467.50 617.44h8.00M653.75 617.44h-8.00M467.50 642.26h8.00M653.75 642.26h-8.00M467.50 667.08h8.00M653.75 667.08h-8.00M467.50 691.89h8.00M653.75 691.89h-8.00M467.50 716.71h16.00M653.75 716.71h-16.00M467.50 741.53h8.00M653.75 741.53h-8.00M467.50 766.34h8.00M653.75 766.34h-8.00"/>
</g>
<g clip-path="url(#c7)" fill="none" stroke-width="2.3">
<path d="M466.0 550.5 L468.3 552.6 L470.5 554.8 L472.8 556.9 L475.0 559.1 L477.2 561.3 L479.3 563.5 L481.4 565.8 L483.5 568.0 L485.6 570.3 L487.6 572.6 L489.6 575.0 L491.6 577.3 L493.6 579.7 L495.5 582.1 L497.4 584.5 L499.3 586.9 L501.1 589.3 L502.9 591.8 L504.7 594.2 L506.5 596.7 L508.2 599.2 L510.0 601.7 L511.7 604.3 L513.3 606.8 L515.0 609.4 L516.6 611.9 L518.2 614.5 L519.8 617.1 L521.4 619.8 L522.9 622.4 L524.4 625.0 L525.9 627.7 L527.4 630.4 L528.9 633.0 L530.3 635.7 L531.7 638.4 L533.1 641.2 L534.5 643.9 L535.9 646.6 L537.2 649.4 L538.6 652.1 L539.9 654.9 L541.2 657.7 L542.5 660.4 L543.7 663.2 L545.0 666.0 L546.2 668.8 L547.5 671.7 L548.7 674.5 L549.9 677.3 L551.1 680.2 L552.2 683.0 L553.4 685.8 L554.5 688.7 L555.7 691.6 L556.8 694.4 L557.9 697.3 L559.0 700.2 L560.1 703.0 L561.2 705.9 L562.3 708.8 L563.3 711.7 L564.4 714.6 L565.4 717.5 L566.5 720.4 L567.5 723.3 L568.5 726.2 L569.5 729.1 L570.5 732.0 L571.5 734.9 L572.5 737.8 L573.5 740.7 L574.5 743.6 L575.5 746.5 L576.5 749.4 L577.4 752.3 L578.4 755.2 L579.4 758.1 L580.3 761.0 L581.3 763.9 L582.3 766.8 L583.2 769.7 L584.2 772.6 L585.1 775.5" stroke="#000000" stroke-dasharray="12 8.5"/>
<path d="M466.3 523.6 L468.4 525.8 L470.5 528.0 L472.6 530.3 L474.7 532.5 L476.8 534.7 L478.8 537.0 L480.8 539.2 L482.8 541.5 L484.9 543.8 L486.8 546.1 L488.8 548.4 L490.8 550.7 L492.8 553.0 L494.7 555.3 L496.6 557.7 L498.6 560.0 L500.5 562.4 L502.4 564.7 L504.3 567.1 L506.2 569.4 L508.1 571.8 L509.9 574.2 L511.8 576.6 L513.7 579.0 L515.5 581.4 L517.4 583.8 L519.2 586.2 L521.1 588.6 L522.9 591.0 L524.7 593.4 L526.6 595.8 L528.4 598.2 L530.2 600.7 L532.0 603.1 L533.8 605.5 L535.7 608.0 L537.5 610.4 L539.3 612.8 L541.1 615.2 L542.9 617.7 L544.7 620.1 L546.5 622.5 L548.3 625.0 L550.2 627.4 L552.0 629.8 L553.8 632.3 L555.6 634.7 L557.4 637.1 L559.3 639.5 L561.1 642.0 L562.9 644.4 L564.8 646.8 L566.6 649.2 L568.5 651.6 L570.4 654.0 L572.2 656.4 L574.1 658.8 L576.0 661.2 L577.9 663.5 L579.8 665.9 L581.7 668.3 L583.6 670.7 L585.5 673.0 L587.4 675.4 L589.4 677.7 L591.3 680.0 L593.2 682.4 L595.2 684.7 L597.1 687.1 L599.1 689.4 L601.0 691.7 L603.0 694.1 L604.9 696.4 L606.8 698.8 L608.7 701.1 L610.7 703.5 L612.6 705.8 L614.5 708.2 L616.3 710.6 L618.2 712.9 L620.0 715.3 L621.9 717.7 L623.7 720.2 L625.5 722.6 L627.2 725.0 L629.0 727.5 L630.7 730.0 L632.4 732.5 L634.1 735.0 L635.7 737.5 L637.3 740.0 L638.9 742.6 L640.5 745.2 L642.0 747.8 L643.4 750.4 L644.9 753.1 L646.3 755.8 L647.7 758.5 L649.0 761.2 L650.3 764.0 L651.5 766.7 L652.7 769.6 L653.8 772.4 L654.9 775.3 L656.0 778.2 L657.0 781.1 L657.9 784.1" stroke="#000000" stroke-dasharray="12 8.5"/>
<path d="M466.3 535.4 L468.6 537.4 L470.8 539.5 L473.0 541.6 L475.2 543.8 L477.3 546.0 L479.4 548.2 L481.4 550.5 L483.5 552.7 L485.4 555.1 L487.4 557.4 L489.3 559.8 L491.2 562.1 L493.2 564.5 L495.0 566.9 L496.9 569.3 L498.8 571.7 L500.7 574.1 L502.6 576.5 L504.5 578.9 L506.4 581.3 L508.3 583.7 L510.3 586.0 L512.2 588.4 L514.2 590.8 L516.0 593.1 L517.9 595.6 L519.7 598.0 L521.5 600.5 L523.2 603.0 L524.9 605.5 L526.6 608.1 L528.3 610.6 L529.9 613.2 L531.6 615.8 L533.2 618.4 L534.8 621.0 L536.4 623.6 L538.0 626.2 L539.5 628.8 L541.1 631.4 L542.7 634.1 L544.2 636.7 L545.8 639.3 L547.3 641.9 L548.8 644.6 L550.3 647.2 L551.9 649.9 L553.4 652.5 L554.8 655.2 L556.3 657.8 L557.8 660.5 L559.3 663.2 L560.7 665.9 L562.1 668.6 L563.6 671.3 L565.0 674.0 L566.4 676.7 L567.7 679.5 L569.1 682.2 L570.5 685.0 L571.9 687.7 L573.3 690.4 L574.8 693.1 L576.3 695.8 L577.8 698.4 L579.4 701.0 L581.0 703.6 L582.7 706.1 L584.5 708.5 L586.3 710.9 L588.3 713.3 L590.2 715.6 L592.3 717.9 L594.3 720.1 L596.4 722.3 L598.5 724.5 L600.7 726.7 L602.8 728.9 L605.0 731.1 L607.1 733.3 L609.3 735.5 L611.4 737.7 L613.4 739.9 L615.5 742.2 L617.5 744.5 L619.4 746.8 L621.3 749.2 L623.2 751.6 L625.0 754.1 L626.7 756.6 L628.3 759.2 L629.9 761.8 L631.3 764.5 L632.7 767.2 L634.0 770.0 L635.3 772.8 L636.6 775.6 L637.8 778.4 L639.0 781.2 L640.2 784.0" stroke="#000000"/>
<path d="M465.8 497.4 L468.4 499.2 L470.9 500.9 L473.5 502.7 L476.0 504.5 L478.5 506.3 L480.9 508.1 L483.4 509.9 L485.9 511.8 L488.3 513.6 L490.7 515.5 L493.1 517.4 L495.5 519.4 L497.9 521.3 L500.2 523.3 L502.5 525.2 L504.9 527.2 L507.2 529.3 L509.5 531.3 L511.7 533.3 L514.0 535.4 L516.2 537.5 L518.4 539.6 L520.6 541.7 L522.8 543.8 L525.0 546.0 L527.1 548.1 L529.3 550.3 L531.4 552.5 L533.5 554.7 L535.6 556.9 L537.6 559.2 L539.7 561.4 L541.7 563.7 L543.7 566.0 L545.7 568.2 L547.7 570.6 L549.7 572.9 L551.6 575.2 L553.5 577.6 L555.5 579.9 L557.3 582.3 L559.2 584.7 L561.1 587.1 L562.9 589.6 L564.7 592.0 L566.5 594.4 L568.3 596.9 L570.1 599.4 L571.9 601.9 L573.6 604.4 L575.3 606.9 L577.0 609.4 L578.7 611.9 L580.4 614.5 L582.0 617.0 L583.6 619.6 L585.2 622.2 L586.8 624.8 L588.4 627.4 L590.0 630.0 L591.5 632.6 L593.0 635.3 L594.5 637.9 L596.0 640.6 L597.5 643.3 L598.9 645.9 L600.3 648.6 L601.8 651.3 L603.1 654.0 L604.5 656.8 L605.9 659.5 L607.2 662.2 L608.5 665.0 L609.8 667.7 L611.1 670.5 L612.4 673.3 L613.6 676.1 L614.8 678.9 L616.0 681.7 L617.2 684.5 L618.4 687.3 L619.5 690.1 L620.7 693.0 L621.8 695.8 L622.9 698.7 L623.9 701.5 L625.0 704.4 L626.0 707.3 L627.1 710.2 L628.0 713.0 L629.0 715.9 L630.0 718.8 L630.9 721.8 L631.8 724.7 L632.7 727.6 L633.6 730.5 L634.5 733.5 L635.3 736.4 L636.1 739.3 L636.9 742.3 L637.7 745.3 L638.5 748.2 L639.2 751.2 L640.0 754.2 L640.7 757.1 L641.3 760.1 L642.0 763.1 L642.7 766.1 L643.3 769.1 L643.9 772.1 L644.5 775.1 L645.0 778.1 L645.6 781.1 L646.1 784.1" stroke="#ff0000" stroke-dasharray="12 8.5"/>
<path d="M466.0 480.2 L468.5 482.0 L470.9 483.8 L473.3 485.7 L475.8 487.5 L478.2 489.4 L480.6 491.3 L483.0 493.2 L485.3 495.1 L487.7 497.1 L490.1 499.0 L492.4 501.0 L494.7 503.0 L497.0 505.0 L499.3 507.0 L501.6 509.0 L503.9 511.0 L506.2 513.1 L508.4 515.1 L510.7 517.2 L512.9 519.3 L515.1 521.4 L517.3 523.5 L519.5 525.6 L521.7 527.7 L523.8 529.9 L526.0 532.0 L528.1 534.2 L530.3 536.4 L532.4 538.6 L534.5 540.8 L536.5 543.0 L538.6 545.3 L540.7 547.5 L542.7 549.8 L544.7 552.0 L546.7 554.3 L548.7 556.6 L550.7 558.9 L552.7 561.2 L554.7 563.6 L556.6 565.9 L558.5 568.2 L560.5 570.6 L562.4 573.0 L564.2 575.4 L566.1 577.8 L568.0 580.2 L569.8 582.6 L571.6 585.0 L573.4 587.5 L575.2 589.9 L577.0 592.4 L578.8 594.8 L580.5 597.3 L582.3 599.8 L584.0 602.3 L585.7 604.8 L587.4 607.4 L589.1 609.9 L590.7 612.4 L592.4 615.0 L594.0 617.6 L595.6 620.1 L597.2 622.7 L598.8 625.3 L600.3 627.9 L601.9 630.5 L603.4 633.2 L604.9 635.8 L606.4 638.4 L607.9 641.1 L609.4 643.7 L610.8 646.4 L612.2 649.1 L613.7 651.8 L615.1 654.5 L616.4 657.2 L617.8 659.9 L619.1 662.6 L620.5 665.4 L621.8 668.1 L623.1 670.9 L624.4 673.6 L625.6 676.4 L626.9 679.2 L628.1 681.9 L629.3 684.7 L630.5 687.5 L631.7 690.3 L632.8 693.1 L633.9 696.0 L635.1 698.8 L636.2 701.6 L637.2 704.5 L638.3 707.3 L639.3 710.2 L640.4 713.1 L641.4 716.0 L642.4 718.8 L643.3 721.7 L644.3 724.6 L645.2 727.5 L646.1 730.4 L647.0 733.4 L647.9 736.3 L648.8 739.2 L649.6 742.2 L650.4 745.1 L651.2 748.1 L652.0 751.0 L652.8 754.0 L653.5 757.0 L654.2 759.9 L654.9 762.9 L655.6 765.9 L656.3 768.9 L656.9 771.9 L657.5 774.9 L658.2 778.0" stroke="#ff0000" stroke-dasharray="12 8.5"/>
<path d="M465.8 489.9 L468.4 491.6 L471.0 493.3 L473.5 495.0 L476.1 496.7 L478.6 498.5 L481.1 500.3 L483.6 502.1 L486.0 503.9 L488.5 505.8 L490.9 507.6 L493.3 509.5 L495.7 511.4 L498.1 513.3 L500.5 515.2 L502.8 517.2 L505.1 519.1 L507.4 521.1 L509.7 523.1 L512.0 525.1 L514.2 527.2 L516.5 529.2 L518.7 531.3 L520.9 533.4 L523.1 535.5 L525.3 537.6 L527.4 539.7 L529.6 541.9 L531.7 544.0 L533.8 546.2 L535.9 548.4 L537.9 550.6 L540.0 552.9 L542.0 555.1 L544.0 557.3 L546.0 559.6 L548.0 561.9 L550.0 564.2 L551.9 566.5 L553.8 568.8 L555.8 571.2 L557.7 573.5 L559.5 575.9 L561.4 578.3 L563.2 580.7 L565.1 583.1 L566.9 585.5 L568.7 587.9 L570.5 590.4 L572.2 592.8 L574.0 595.3 L575.7 597.8 L577.4 600.3 L579.1 602.8 L580.8 605.3 L582.4 607.8 L584.1 610.4 L585.7 612.9 L587.3 615.5 L588.9 618.1 L590.5 620.7 L592.1 623.3 L593.6 625.9 L595.1 628.5 L596.7 631.1 L598.1 633.7 L599.6 636.4 L601.1 639.1 L602.5 641.7 L604.0 644.4 L605.4 647.1 L606.8 649.8 L608.2 652.5 L609.5 655.2 L610.9 657.9 L612.2 660.7 L613.5 663.4 L614.8 666.1 L616.1 668.9 L617.4 671.7 L618.6 674.4 L619.8 677.2 L621.1 680.0 L622.3 682.8 L623.4 685.6 L624.6 688.4 L625.8 691.2 L626.9 694.0 L628.0 696.9 L629.1 699.7 L630.2 702.6 L631.3 705.4 L632.3 708.3 L633.4 711.1 L634.4 714.0 L635.4 716.9 L636.4 719.7 L637.4 722.6 L638.3 725.5 L639.3 728.4 L640.2 731.3 L641.1 734.2 L642.0 737.1 L642.9 740.0 L643.7 742.9 L644.6 745.9 L645.4 748.8 L646.2 751.7 L647.0 754.6 L647.8 757.6 L648.6 760.5 L649.3 763.4 L650.1 766.4 L650.8 769.3 L651.5 772.3 L652.2 775.2 L652.9 778.2 L653.5 781.2 L654.2 784.1" stroke="#ff0000"/>
</g>
<g fill="none" stroke-width="2" stroke-linecap="butt" stroke-linejoin="miter">
<path d="M478.73 547.42 L535.26 547.42 M523.76 541.42 L535.26 547.42 L523.76 553.42" stroke="#0000ff"/>
<path d="M507.53 582.61 L565.12 582.61 M553.62 576.61 L565.12 582.61 L553.62 588.61" stroke="#00ff00"/>
<path d="M537.39 624.64 L593.92 624.64 M582.42 618.64 L593.92 624.64 L582.42 630.64" stroke="#a00000"/>
<path d="M566.19 675.83 L619.51 675.83 M608.01 669.83 L619.51 675.83 L608.01 681.83" stroke="#ff8c00"/>
</g><text x="49.00" y="105.50" font-size="25.00" font-family="Liberation Sans, sans-serif" fill="#000" font-weight="normal" text-anchor="start" textLength="31.3" lengthAdjust="spacingAndGlyphs">−2</text>
<text x="49.00" y="229.70" font-size="25.00" font-family="Liberation Sans, sans-serif" fill="#000" font-weight="normal" text-anchor="start" textLength="31.3" lengthAdjust="spacingAndGlyphs">−3</text>
<text x="49.00" y="353.80" font-size="25.00" font-family="Liberation Sans, sans-serif" fill="#000" font-weight="normal" text-anchor="start" textLength="31.3" lengthAdjust="spacingAndGlyphs">−4</text>
<text x="49.00" y="477.80" font-size="25.00" font-family="Liberation Sans, sans-serif" fill="#000" font-weight="normal" text-anchor="start" textLength="31.3" lengthAdjust="spacingAndGlyphs">−2</text>
<text x="49.00" y="601.90" font-size="25.00" font-family="Liberation Sans, sans-serif" fill="#000" font-weight="normal" text-anchor="start" textLength="31.3" lengthAdjust="spacingAndGlyphs">−3</text>
<text x="49.00" y="726.00" font-size="25.00" font-family="Liberation Sans, sans-serif" fill="#000" font-weight="normal" text-anchor="start" textLength="31.3" lengthAdjust="spacingAndGlyphs">−4</text>
<text x="95.14" y="809.70" font-size="25.00" font-family="Liberation Sans, sans-serif" fill="#000" font-weight="normal" text-anchor="start" textLength="25.7" lengthAdjust="spacingAndGlyphs">10</text>
<text x="211.75" y="809.70" font-size="25.00" font-family="Liberation Sans, sans-serif" fill="#000" font-weight="normal" text-anchor="start" textLength="22.7" lengthAdjust="spacingAndGlyphs">11</text>
<text x="281.39" y="809.70" font-size="25.00" font-family="Liberation Sans, sans-serif" fill="#000" font-weight="normal" text-anchor="start" textLength="25.7" lengthAdjust="spacingAndGlyphs">10</text>
<text x="398.00" y="809.70" font-size="25.00" font-family="Liberation Sans, sans-serif" fill="#000" font-weight="normal" text-anchor="start" textLength="22.7" lengthAdjust="spacingAndGlyphs">11</text>
<text x="467.64" y="809.70" font-size="25.00" font-family="Liberation Sans, sans-serif" fill="#000" font-weight="normal" text-anchor="start" textLength="25.7" lengthAdjust="spacingAndGlyphs">10</text>
<text x="584.25" y="809.70" font-size="25.00" font-family="Liberation Sans, sans-serif" fill="#000" font-weight="normal" text-anchor="start" textLength="22.7" lengthAdjust="spacingAndGlyphs">11</text>
<text x="654.59" y="437.30" font-size="25.00" font-family="Liberation Sans, sans-serif" fill="#000" font-weight="normal" text-anchor="start" textLength="24.5" lengthAdjust="spacingAndGlyphs">10</text>
<text x="770.70" y="437.30" font-size="25.00" font-family="Liberation Sans, sans-serif" fill="#000" font-weight="normal" text-anchor="start" textLength="22.7" lengthAdjust="spacingAndGlyphs">11</text>
<text x="169.60" y="71.40" font-size="19.60" font-family="Liberation Sans, sans-serif" fill="#000" font-weight="normal" text-anchor="start" textLength="79.4" lengthAdjust="spacingAndGlyphs" stroke="#000" stroke-width="0.55">0.5−0.8</text>
<text x="169.60" y="97.40" font-size="19.60" font-family="Liberation Sans, sans-serif" fill="#ff0000" font-weight="normal" text-anchor="start" textLength="79.4" lengthAdjust="spacingAndGlyphs" stroke="#ff0000" stroke-width="0.55">0.2−0.5</text>
<text x="355.60" y="71.40" font-size="19.60" font-family="Liberation Sans, sans-serif" fill="#000" font-weight="normal" text-anchor="start" textLength="79.4" lengthAdjust="spacingAndGlyphs" stroke="#000" stroke-width="0.55">0.8−1.1</text>
<text x="355.60" y="97.40" font-size="19.60" font-family="Liberation Sans, sans-serif" fill="#ff0000" font-weight="normal" text-anchor="start" textLength="79.4" lengthAdjust="spacingAndGlyphs" stroke="#ff0000" stroke-width="0.55">0.5−0.8</text>
<text x="544.40" y="71.40" font-size="19.60" font-family="Liberation Sans, sans-serif" fill="#000" font-weight="normal" text-anchor="start" textLength="76.6" lengthAdjust="spacingAndGlyphs" stroke="#000" stroke-width="0.55">1.1−1.5</text>
<text x="541.60" y="97.40" font-size="19.60" font-family="Liberation Sans, sans-serif" fill="#ff0000" font-weight="normal" text-anchor="start" textLength="79.4" lengthAdjust="spacingAndGlyphs" stroke="#ff0000" stroke-width="0.55">0.8−1.1</text>
<text x="730.40" y="71.40" font-size="19.60" font-family="Liberation Sans, sans-serif" fill="#000" font-weight="normal" text-anchor="start" textLength="76.6" lengthAdjust="spacingAndGlyphs" stroke="#000" stroke-width="0.55">1.5−2.0</text>
<text x="730.40" y="97.40" font-size="19.60" font-family="Liberation Sans, sans-serif" fill="#ff0000" font-weight="normal" text-anchor="start" textLength="76.6" lengthAdjust="spacingAndGlyphs" stroke="#ff0000" stroke-width="0.55">1.1−1.5</text>
<text x="169.60" y="443.40" font-size="19.60" font-family="Liberation Sans, sans-serif" fill="#000" font-weight="normal" text-anchor="start" textLength="79.4" lengthAdjust="spacingAndGlyphs" stroke="#000" stroke-width="0.55">2.0−2.5</text>
<text x="172.40" y="469.40" font-size="19.60" font-family="Liberation Sans, sans-serif" fill="#ff0000" font-weight="normal" text-anchor="start" textLength="76.6" lengthAdjust="spacingAndGlyphs" stroke="#ff0000" stroke-width="0.55">1.5−2.0</text>
<text x="355.60" y="443.40" font-size="19.60" font-family="Liberation Sans, sans-serif" fill="#000" font-weight="normal" text-anchor="start" textLength="79.4" lengthAdjust="spacingAndGlyphs" stroke="#000" stroke-width="0.55">2.5−3.0</text>
<text x="355.60" y="469.40" font-size="19.60" font-family="Liberation Sans, sans-serif" fill="#ff0000" font-weight="normal" text-anchor="start" textLength="79.4" lengthAdjust="spacingAndGlyphs" stroke="#ff0000" stroke-width="0.55">2.0−2.5</text>
<text x="541.60" y="443.40" font-size="19.60" font-family="Liberation Sans, sans-serif" fill="#000" font-weight="normal" text-anchor="start" textLength="79.4" lengthAdjust="spacingAndGlyphs" stroke="#000" stroke-width="0.55">3.0−4.0</text>
<text x="541.60" y="469.40" font-size="19.60" font-family="Liberation Sans, sans-serif" fill="#ff0000" font-weight="normal" text-anchor="start" textLength="79.4" lengthAdjust="spacingAndGlyphs" stroke="#ff0000" stroke-width="0.55">2.5−3.0</text>
<path d="M666.4 499.50 H720.6 M706.6 491.20 L720.6 499.50 L706.6 507.80" stroke="#0000ff" stroke-width="2" fill="none"/>
<text x="729.10" y="504.50" font-size="23.50" font-family="Liberation Serif, serif" fill="#0000ff" font-weight="bold" text-anchor="start" textLength="15.2" lengthAdjust="spacingAndGlyphs" stroke="#0000ff" stroke-width="0.3">M</text>
<text x="746.10" y="511.50" font-size="14.00" font-family="Liberation Sans, sans-serif" fill="#0000ff" font-weight="bold" text-anchor="start" textLength="8.8" lengthAdjust="spacingAndGlyphs">R</text>
<path d="M757.0 495.00 H770.6 M757.0 501.30 H770.6" stroke="#0000ff" stroke-width="1.9" fill="none"/>
<text x="776.20" y="504.80" font-size="22.50" font-family="Liberation Sans, sans-serif" fill="#0000ff" font-weight="normal" text-anchor="start" textLength="24.6" lengthAdjust="spacingAndGlyphs" stroke="#0000ff" stroke-width="0.5">10</text>
<text x="803.10" y="498.70" font-size="14.50" font-family="Liberation Sans, sans-serif" fill="#0000ff" font-weight="bold" text-anchor="start" textLength="35.8" lengthAdjust="spacingAndGlyphs">10.00</text>
<path d="M666.4 526.00 H720.6 M706.6 517.70 L720.6 526.00 L706.6 534.30" stroke="#00ff00" stroke-width="2" fill="none"/>
<text x="729.10" y="531.30" font-size="23.50" font-family="Liberation Serif, serif" fill="#00ff00" font-weight="bold" text-anchor="start" textLength="15.2" lengthAdjust="spacingAndGlyphs" stroke="#00ff00" stroke-width="0.3">M</text>
<text x="746.10" y="538.30" font-size="14.00" font-family="Liberation Sans, sans-serif" fill="#00ff00" font-weight="bold" text-anchor="start" textLength="8.8" lengthAdjust="spacingAndGlyphs">R</text>
<path d="M757.0 521.80 H770.6 M757.0 528.10 H770.6" stroke="#00ff00" stroke-width="1.9" fill="none"/>
<text x="776.20" y="531.60" font-size="22.50" font-family="Liberation Sans, sans-serif" fill="#00ff00" font-weight="normal" text-anchor="start" textLength="24.6" lengthAdjust="spacingAndGlyphs" stroke="#00ff00" stroke-width="0.5">10</text>
<text x="803.10" y="525.50" font-size="14.50" font-family="Liberation Sans, sans-serif" fill="#00ff00" font-weight="bold" text-anchor="start" textLength="35.8" lengthAdjust="spacingAndGlyphs">10.25</text>
<path d="M666.4 552.60 H720.6 M706.6 544.30 L720.6 552.60 L706.6 560.90" stroke="#a00000" stroke-width="2" fill="none"/>
<text x="729.10" y="558.00" font-size="23.50" font-family="Liberation Serif, serif" fill="#a00000" font-weight="bold" text-anchor="start" textLength="15.2" lengthAdjust="spacingAndGlyphs" stroke="#a00000" stroke-width="0.3">M</text>
<text x="746.10" y="565.00" font-size="14.00" font-family="Liberation Sans, sans-serif" fill="#a00000" font-weight="bold" text-anchor="start" textLength="8.8" lengthAdjust="spacingAndGlyphs">R</text>
<path d="M757.0 548.50 H770.6 M757.0 554.80 H770.6" stroke="#a00000" stroke-width="1.9" fill="none"/>
<text x="776.20" y="558.30" font-size="22.50" font-family="Liberation Sans, sans-serif" fill="#a00000" font-weight="normal" text-anchor="start" textLength="24.6" lengthAdjust="spacingAndGlyphs" stroke="#a00000" stroke-width="0.5">10</text>
<text x="803.10" y="552.20" font-size="14.50" font-family="Liberation Sans, sans-serif" fill="#a00000" font-weight="bold" text-anchor="start" textLength="35.8" lengthAdjust="spacingAndGlyphs">10.50</text>
<path d="M666.4 579.10 H720.6 M706.6 570.80 L720.6 579.10 L706.6 587.40" stroke="#ff8c00" stroke-width="2" fill="none"/>
<text x="729.10" y="584.80" font-size="23.50" font-family="Liberation Serif, serif" fill="#ff8c00" font-weight="bold" text-anchor="start" textLength="15.2" lengthAdjust="spacingAndGlyphs" stroke="#ff8c00" stroke-width="0.3">M</text>
<text x="746.10" y="591.80" font-size="14.00" font-family="Liberation Sans, sans-serif" fill="#ff8c00" font-weight="bold" text-anchor="start" textLength="8.8" lengthAdjust="spacingAndGlyphs">R</text>
<path d="M757.0 575.30 H770.6 M757.0 581.60 H770.6" stroke="#ff8c00" stroke-width="1.9" fill="none"/>
<text x="776.20" y="585.10" font-size="22.50" font-family="Liberation Sans, sans-serif" fill="#ff8c00" font-weight="normal" text-anchor="start" textLength="24.6" lengthAdjust="spacingAndGlyphs" stroke="#ff8c00" stroke-width="0.5">10</text>
<text x="803.10" y="579.00" font-size="14.50" font-family="Liberation Sans, sans-serif" fill="#ff8c00" font-weight="bold" text-anchor="start" textLength="35.8" lengthAdjust="spacingAndGlyphs">10.75</text>
<text x="721.30" y="665.30" font-size="29.50" font-family="Liberation Serif, serif" fill="#ff0000" font-weight="normal" text-anchor="start" textLength="37.1" lengthAdjust="spacingAndGlyphs" stroke="#ff0000" stroke-width="0.45">MF</text>
<text x="760.10" y="673.20" font-size="18.00" font-family="Liberation Serif, serif" fill="#ff0000" font-weight="bold" text-anchor="start" textLength="20.4" lengthAdjust="spacingAndGlyphs">SF</text>
<text x="721.30" y="717.30" font-size="29.50" font-family="Liberation Serif, serif" fill="#000" font-weight="normal" text-anchor="start" textLength="37.1" lengthAdjust="spacingAndGlyphs" stroke="#000" stroke-width="0.45">MF</text>
<text x="760.10" y="725.40" font-size="18.00" font-family="Liberation Serif, serif" fill="#000" font-weight="bold" text-anchor="start" textLength="45.4" lengthAdjust="spacingAndGlyphs">SF−Q</text>
<text x="368.90" y="860.70" font-size="31.00" font-family="Liberation Serif, serif" fill="#000" font-weight="normal" text-anchor="start" textLength="44.1" lengthAdjust="spacingAndGlyphs" stroke="#000" stroke-width="0.45">log</text>
<text x="417.30" y="860.70" font-size="36.00" font-family="Liberation Serif, serif" fill="#000" font-weight="normal" text-anchor="start" textLength="10.0" lengthAdjust="spacingAndGlyphs" stroke="#000" stroke-width="0.45">(</text>
<text x="426.50" y="860.70" font-size="30.50" font-family="Liberation Serif, serif" fill="#000" font-weight="normal" text-anchor="start" textLength="23.8" lengthAdjust="spacingAndGlyphs" stroke="#000" stroke-width="0.45">M</text>
<polygon points="455.10,858.10 455.98,860.19 458.24,860.38 456.53,861.86 457.04,864.07 455.10,862.90 453.16,864.07 453.67,861.86 451.96,860.38 454.22,860.19" fill="#000"/>
<text x="459.00" y="860.70" font-size="36.00" font-family="Liberation Serif, serif" fill="#000" font-weight="normal" text-anchor="start" textLength="10.0" lengthAdjust="spacingAndGlyphs" stroke="#000" stroke-width="0.45">)</text>
<path d="M498.0 836.6 H491.8 V866.2 H498.0 M557.0 836.6 H563.2 V866.2 H557.0" fill="none" stroke="#000" stroke-width="1.9"/>
<text x="501.00" y="860.70" font-size="30.50" font-family="Liberation Serif, serif" fill="#000" font-weight="normal" text-anchor="start" textLength="21.5" lengthAdjust="spacingAndGlyphs" stroke="#000" stroke-width="0.45">M</text>
<circle cx="531.6" cy="863.6" r="5.6" fill="none" stroke="#000" stroke-width="1.6"/><circle cx="531.6" cy="863.6" r="1.6" fill="#000"/>
<text transform="translate(28.70 682.80) rotate(-90)" font-size="31.00" font-family="Liberation Serif, serif" textLength="42.8" lengthAdjust="spacingAndGlyphs" stroke="#000" stroke-width="0.45">log</text>
<text transform="translate(27.90 621.20) rotate(-90)" font-size="34.00" font-family="Liberation Serif, serif" textLength="9.8" lengthAdjust="spacingAndGlyphs" stroke="#000" stroke-width="0.45">(</text>
<text transform="translate(28.70 593.40) rotate(-90)" font-size="31.00" font-family="Liberation Serif, serif" textLength="174.5" lengthAdjust="spacingAndGlyphs" stroke="#000" stroke-width="0.45">cumulative</text>
<ellipse cx="21.6" cy="391.9" rx="7.5" ry="8.5" fill="none" stroke="#000" stroke-width="2.4"/><path d="M8.3 388.2 L34.4 395.5" stroke="#000" stroke-width="2.1" fill="none"/>
<text transform="translate(27.90 365.00) rotate(-90)" font-size="34.00" font-family="Liberation Serif, serif" textLength="9.8" lengthAdjust="spacingAndGlyphs" stroke="#000" stroke-width="0.45">(</text>
<text transform="translate(28.70 354.40) rotate(-90)" font-size="31.00" font-family="Liberation Serif, serif" textLength="61.0" lengthAdjust="spacingAndGlyphs" stroke="#000" stroke-width="0.45">Mpc</text>
<text transform="translate(19.40 291.60) rotate(-90)" font-size="18.00" font-family="Liberation Sans, sans-serif" textLength="23.5" lengthAdjust="spacingAndGlyphs" stroke="#000" stroke-width="0.45">−3</text>
<text transform="translate(28.70 250.40) rotate(-90)" font-size="31.00" font-family="Liberation Serif, serif" textLength="51.2" lengthAdjust="spacingAndGlyphs" stroke="#000" stroke-width="0.45">dex</text>
<text transform="translate(19.40 195.20) rotate(-90)" font-size="18.00" font-family="Liberation Sans, sans-serif" textLength="23.5" lengthAdjust="spacingAndGlyphs" stroke="#000" stroke-width="0.45">−1</text>
<text transform="translate(27.90 168.00) rotate(-90)" font-size="34.00" font-family="Liberation Serif, serif" textLength="9.8" lengthAdjust="spacingAndGlyphs" stroke="#000" stroke-width="0.45">)</text>
<text transform="translate(27.90 141.00) rotate(-90)" font-size="34.00" font-family="Liberation Serif, serif" textLength="9.8" lengthAdjust="spacingAndGlyphs" stroke="#000" stroke-width="0.45">)</text>
</svg></body></html>
